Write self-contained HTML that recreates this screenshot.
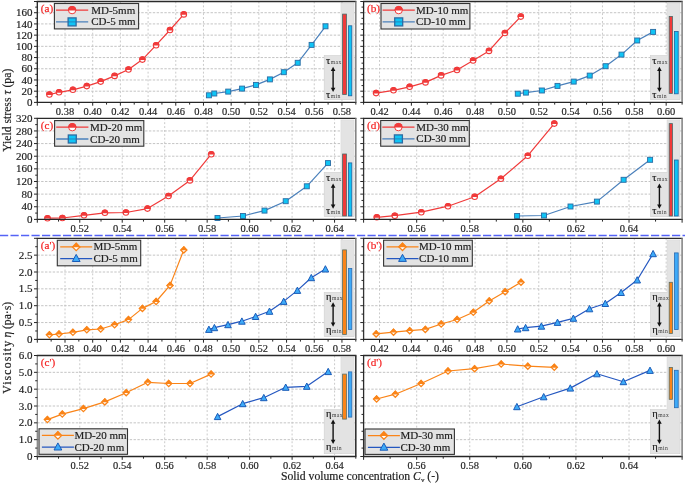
<!DOCTYPE html>
<html><head><meta charset="utf-8"><style>html,body{margin:0;padding:0;background:#fff;}svg{display:block;will-change:transform;}</style></head><body>
<svg width="685" height="483" viewBox="0 0 685 483" font-family='"Liberation Serif", serif'>
<rect width="685" height="483" fill="#fff"/>
<line x1="65.00" y1="1.50" x2="65.00" y2="102.40" stroke="#c4c4c4" stroke-width="0.9" stroke-dasharray="1.9,2"/>
<line x1="92.69" y1="1.50" x2="92.69" y2="102.40" stroke="#c4c4c4" stroke-width="0.9" stroke-dasharray="1.9,2"/>
<line x1="120.39" y1="1.50" x2="120.39" y2="102.40" stroke="#c4c4c4" stroke-width="0.9" stroke-dasharray="1.9,2"/>
<line x1="148.08" y1="1.50" x2="148.08" y2="102.40" stroke="#c4c4c4" stroke-width="0.9" stroke-dasharray="1.9,2"/>
<line x1="175.78" y1="1.50" x2="175.78" y2="102.40" stroke="#c4c4c4" stroke-width="0.9" stroke-dasharray="1.9,2"/>
<line x1="203.47" y1="1.50" x2="203.47" y2="102.40" stroke="#c4c4c4" stroke-width="0.9" stroke-dasharray="1.9,2"/>
<line x1="231.17" y1="1.50" x2="231.17" y2="102.40" stroke="#c4c4c4" stroke-width="0.9" stroke-dasharray="1.9,2"/>
<line x1="258.87" y1="1.50" x2="258.87" y2="102.40" stroke="#c4c4c4" stroke-width="0.9" stroke-dasharray="1.9,2"/>
<line x1="286.56" y1="1.50" x2="286.56" y2="102.40" stroke="#c4c4c4" stroke-width="0.9" stroke-dasharray="1.9,2"/>
<line x1="314.26" y1="1.50" x2="314.26" y2="102.40" stroke="#c4c4c4" stroke-width="0.9" stroke-dasharray="1.9,2"/>
<line x1="341.95" y1="1.50" x2="341.95" y2="102.40" stroke="#c4c4c4" stroke-width="0.9" stroke-dasharray="1.9,2"/>
<line x1="37.30" y1="91.19" x2="355.80" y2="91.19" stroke="#bdbdbd" stroke-width="0.9" stroke-dasharray="2.4,1.45"/>
<line x1="37.30" y1="79.98" x2="355.80" y2="79.98" stroke="#bdbdbd" stroke-width="0.9" stroke-dasharray="2.4,1.45"/>
<line x1="37.30" y1="68.77" x2="355.80" y2="68.77" stroke="#bdbdbd" stroke-width="0.9" stroke-dasharray="2.4,1.45"/>
<line x1="37.30" y1="57.56" x2="355.80" y2="57.56" stroke="#bdbdbd" stroke-width="0.9" stroke-dasharray="2.4,1.45"/>
<line x1="37.30" y1="46.34" x2="355.80" y2="46.34" stroke="#bdbdbd" stroke-width="0.9" stroke-dasharray="2.4,1.45"/>
<line x1="37.30" y1="35.13" x2="355.80" y2="35.13" stroke="#bdbdbd" stroke-width="0.9" stroke-dasharray="2.4,1.45"/>
<line x1="37.30" y1="23.92" x2="355.80" y2="23.92" stroke="#bdbdbd" stroke-width="0.9" stroke-dasharray="2.4,1.45"/>
<line x1="37.30" y1="12.71" x2="355.80" y2="12.71" stroke="#bdbdbd" stroke-width="0.9" stroke-dasharray="2.4,1.45"/>
<rect x="341.0" y="3.20" width="13.00" height="96.40" fill="#e3e3e3" stroke="#d0d0d0" stroke-width="0.6"/>
<rect x="324.2" y="55.50" width="29.80" height="44.10" fill="#e3e3e3" stroke="#d0d0d0" stroke-width="0.6"/>
<rect x="341.3" y="3.50" width="12.40" height="95.80" fill="#e3e3e3"/>
<rect x="342.6" y="14.1" width="3.80" height="80.40" fill="#f03a3a" stroke="#4a6a68" stroke-width="0.8"/>
<rect x="348.5" y="25.8" width="3.30" height="70.00" fill="#0fc4f5" stroke="#20609f" stroke-width="0.8"/>
<text x="326.00" y="63.90" font-size="10.5" fill="#1a1a1a" stroke="#1a1a1a" stroke-width="0.18">τ<tspan font-size="5.6" letter-spacing="0.5" fill="#3a3a3a" stroke="none" dx="0.4">max</tspan></text>
<text x="326.00" y="97.50" font-size="10.5" fill="#1a1a1a" stroke="#1a1a1a" stroke-width="0.18">τ<tspan font-size="5.6" letter-spacing="0.5" fill="#3a3a3a" stroke="none" dx="0.4">min</tspan></text>
<line x1="333.10" y1="69.70" x2="333.10" y2="89.00" stroke="#111" stroke-width="1.4"/>
<path d="M333.10,66.70 L335.40,71.00 L330.80,71.00 Z" fill="#111"/>
<path d="M333.10,92.00 L335.40,87.70 L330.80,87.70 Z" fill="#111"/>
<polyline points="49.40,94.50 59.00,92.30 72.90,89.80 86.80,86.10 100.70,81.60 114.60,75.90 128.50,69.50 142.40,59.60 156.10,45.20 170.00,30.00 183.80,14.40" fill="none" stroke="#f03a3a" stroke-width="1.2" stroke-linejoin="round"/>
<polyline points="208.90,95.30 214.30,93.50 228.20,91.60 242.10,88.60 256.00,84.90 269.90,79.40 283.80,72.20 297.70,62.80 311.60,44.90 325.50,26.30" fill="none" stroke="#4a80bb" stroke-width="1.2" stroke-linejoin="round"/>
<circle cx="49.40" cy="94.50" r="2.75" fill="#fff" stroke="#f03a3a" stroke-width="1.1"/><path d="M46.12,94.90 A3.30,3.30 0 1 1 52.68,94.90 Z" fill="#f03a3a"/>
<circle cx="59.00" cy="92.30" r="2.75" fill="#fff" stroke="#f03a3a" stroke-width="1.1"/><path d="M55.72,92.70 A3.30,3.30 0 1 1 62.28,92.70 Z" fill="#f03a3a"/>
<circle cx="72.90" cy="89.80" r="2.75" fill="#fff" stroke="#f03a3a" stroke-width="1.1"/><path d="M69.62,90.20 A3.30,3.30 0 1 1 76.18,90.20 Z" fill="#f03a3a"/>
<circle cx="86.80" cy="86.10" r="2.75" fill="#fff" stroke="#f03a3a" stroke-width="1.1"/><path d="M83.52,86.50 A3.30,3.30 0 1 1 90.08,86.50 Z" fill="#f03a3a"/>
<circle cx="100.70" cy="81.60" r="2.75" fill="#fff" stroke="#f03a3a" stroke-width="1.1"/><path d="M97.42,82.00 A3.30,3.30 0 1 1 103.98,82.00 Z" fill="#f03a3a"/>
<circle cx="114.60" cy="75.90" r="2.75" fill="#fff" stroke="#f03a3a" stroke-width="1.1"/><path d="M111.32,76.30 A3.30,3.30 0 1 1 117.88,76.30 Z" fill="#f03a3a"/>
<circle cx="128.50" cy="69.50" r="2.75" fill="#fff" stroke="#f03a3a" stroke-width="1.1"/><path d="M125.22,69.90 A3.30,3.30 0 1 1 131.78,69.90 Z" fill="#f03a3a"/>
<circle cx="142.40" cy="59.60" r="2.75" fill="#fff" stroke="#f03a3a" stroke-width="1.1"/><path d="M139.12,60.00 A3.30,3.30 0 1 1 145.68,60.00 Z" fill="#f03a3a"/>
<circle cx="156.10" cy="45.20" r="2.75" fill="#fff" stroke="#f03a3a" stroke-width="1.1"/><path d="M152.82,45.60 A3.30,3.30 0 1 1 159.38,45.60 Z" fill="#f03a3a"/>
<circle cx="170.00" cy="30.00" r="2.75" fill="#fff" stroke="#f03a3a" stroke-width="1.1"/><path d="M166.72,30.40 A3.30,3.30 0 1 1 173.28,30.40 Z" fill="#f03a3a"/>
<circle cx="183.80" cy="14.40" r="2.75" fill="#fff" stroke="#f03a3a" stroke-width="1.1"/><path d="M180.52,14.80 A3.30,3.30 0 1 1 187.08,14.80 Z" fill="#f03a3a"/>
<rect x="206.40" y="92.80" width="5.0" height="5.0" fill="#0fc4f5" stroke="#2b6ca3" stroke-width="0.9"/>
<rect x="211.80" y="91.00" width="5.0" height="5.0" fill="#0fc4f5" stroke="#2b6ca3" stroke-width="0.9"/>
<rect x="225.70" y="89.10" width="5.0" height="5.0" fill="#0fc4f5" stroke="#2b6ca3" stroke-width="0.9"/>
<rect x="239.60" y="86.10" width="5.0" height="5.0" fill="#0fc4f5" stroke="#2b6ca3" stroke-width="0.9"/>
<rect x="253.50" y="82.40" width="5.0" height="5.0" fill="#0fc4f5" stroke="#2b6ca3" stroke-width="0.9"/>
<rect x="267.40" y="76.90" width="5.0" height="5.0" fill="#0fc4f5" stroke="#2b6ca3" stroke-width="0.9"/>
<rect x="281.30" y="69.70" width="5.0" height="5.0" fill="#0fc4f5" stroke="#2b6ca3" stroke-width="0.9"/>
<rect x="295.20" y="60.30" width="5.0" height="5.0" fill="#0fc4f5" stroke="#2b6ca3" stroke-width="0.9"/>
<rect x="309.10" y="42.40" width="5.0" height="5.0" fill="#0fc4f5" stroke="#2b6ca3" stroke-width="0.9"/>
<rect x="323.00" y="23.80" width="5.0" height="5.0" fill="#0fc4f5" stroke="#2b6ca3" stroke-width="0.9"/>
<rect x="54.4" y="3.5" width="84.2" height="25.4" fill="#e3e3e3" stroke="#333" stroke-width="1.1"/>
<line x1="56.00" y1="10.10" x2="88.20" y2="10.10" stroke="#f03a3a" stroke-width="1.3"/>
<line x1="56.00" y1="21.90" x2="88.20" y2="21.90" stroke="#4a80bb" stroke-width="1.3"/>
<circle cx="72.10" cy="10.10" r="3.7" fill="#fff" stroke="#f03a3a" stroke-width="1.0"/><path d="M67.93,10.60 A4.20,4.20 0 1 1 76.27,10.60 Z" fill="#f03a3a"/>
<rect x="68.10" y="17.90" width="8.0" height="8.0" fill="#0fc4f5" stroke="#2b6ca3" stroke-width="1.3"/>
<line x1="68.10" y1="21.90" x2="76.10" y2="21.90" stroke="#2b6ca3" stroke-width="1.0" opacity="0.7"/>
<text x="91.20" y="13.60" font-size="11" fill="#222" stroke="#222" stroke-width="0.18">MD-5mm</text>
<text x="91.20" y="25.40" font-size="11" fill="#222" stroke="#222" stroke-width="0.18">CD-5 mm</text>
<text x="40.70" y="11.70" font-size="11.2" fill="#f52020" stroke="#f52020" stroke-width="0.18">(a)</text>
<line x1="36.70" y1="102.40" x2="356.40" y2="102.40" stroke="#262626" stroke-width="1.3"/>
<line x1="37.30" y1="1.50" x2="37.30" y2="102.40" stroke="#222" stroke-width="1.3"/>
<line x1="36.70" y1="1.50" x2="356.40" y2="1.50" stroke="#2a2a2a" stroke-width="1.3"/>
<line x1="355.80" y1="1.50" x2="355.80" y2="102.40" stroke="#858585" stroke-width="1.6"/>
<line x1="37.30" y1="102.40" x2="37.30" y2="105.70" stroke="#262626" stroke-width="1"/>
<line x1="51.15" y1="102.40" x2="51.15" y2="104.60" stroke="#262626" stroke-width="1"/>
<line x1="65.00" y1="102.40" x2="65.00" y2="105.70" stroke="#262626" stroke-width="1"/>
<line x1="78.84" y1="102.40" x2="78.84" y2="104.60" stroke="#262626" stroke-width="1"/>
<line x1="92.69" y1="102.40" x2="92.69" y2="105.70" stroke="#262626" stroke-width="1"/>
<line x1="106.54" y1="102.40" x2="106.54" y2="104.60" stroke="#262626" stroke-width="1"/>
<line x1="120.39" y1="102.40" x2="120.39" y2="105.70" stroke="#262626" stroke-width="1"/>
<line x1="134.23" y1="102.40" x2="134.23" y2="104.60" stroke="#262626" stroke-width="1"/>
<line x1="148.08" y1="102.40" x2="148.08" y2="105.70" stroke="#262626" stroke-width="1"/>
<line x1="161.93" y1="102.40" x2="161.93" y2="104.60" stroke="#262626" stroke-width="1"/>
<line x1="175.78" y1="102.40" x2="175.78" y2="105.70" stroke="#262626" stroke-width="1"/>
<line x1="189.63" y1="102.40" x2="189.63" y2="104.60" stroke="#262626" stroke-width="1"/>
<line x1="203.47" y1="102.40" x2="203.47" y2="105.70" stroke="#262626" stroke-width="1"/>
<line x1="217.32" y1="102.40" x2="217.32" y2="104.60" stroke="#262626" stroke-width="1"/>
<line x1="231.17" y1="102.40" x2="231.17" y2="105.70" stroke="#262626" stroke-width="1"/>
<line x1="245.02" y1="102.40" x2="245.02" y2="104.60" stroke="#262626" stroke-width="1"/>
<line x1="258.87" y1="102.40" x2="258.87" y2="105.70" stroke="#262626" stroke-width="1"/>
<line x1="272.71" y1="102.40" x2="272.71" y2="104.60" stroke="#262626" stroke-width="1"/>
<line x1="286.56" y1="102.40" x2="286.56" y2="105.70" stroke="#262626" stroke-width="1"/>
<line x1="300.41" y1="102.40" x2="300.41" y2="104.60" stroke="#262626" stroke-width="1"/>
<line x1="314.26" y1="102.40" x2="314.26" y2="105.70" stroke="#262626" stroke-width="1"/>
<line x1="328.10" y1="102.40" x2="328.10" y2="104.60" stroke="#262626" stroke-width="1"/>
<line x1="341.95" y1="102.40" x2="341.95" y2="105.70" stroke="#262626" stroke-width="1"/>
<line x1="355.80" y1="102.40" x2="355.80" y2="104.60" stroke="#262626" stroke-width="1"/>
<text x="65.00" y="114.50" font-size="11" fill="#1e1e1e" text-anchor="middle" textLength="18.3" lengthAdjust="spacingAndGlyphs" stroke="#1e1e1e" stroke-width="0.18">0.38</text>
<text x="92.69" y="114.50" font-size="11" fill="#1e1e1e" text-anchor="middle" textLength="18.3" lengthAdjust="spacingAndGlyphs" stroke="#1e1e1e" stroke-width="0.18">0.40</text>
<text x="120.39" y="114.50" font-size="11" fill="#1e1e1e" text-anchor="middle" textLength="18.3" lengthAdjust="spacingAndGlyphs" stroke="#1e1e1e" stroke-width="0.18">0.42</text>
<text x="148.08" y="114.50" font-size="11" fill="#1e1e1e" text-anchor="middle" textLength="18.3" lengthAdjust="spacingAndGlyphs" stroke="#1e1e1e" stroke-width="0.18">0.44</text>
<text x="175.78" y="114.50" font-size="11" fill="#1e1e1e" text-anchor="middle" textLength="18.3" lengthAdjust="spacingAndGlyphs" stroke="#1e1e1e" stroke-width="0.18">0.46</text>
<text x="203.47" y="114.50" font-size="11" fill="#1e1e1e" text-anchor="middle" textLength="18.3" lengthAdjust="spacingAndGlyphs" stroke="#1e1e1e" stroke-width="0.18">0.48</text>
<text x="231.17" y="114.50" font-size="11" fill="#1e1e1e" text-anchor="middle" textLength="18.3" lengthAdjust="spacingAndGlyphs" stroke="#1e1e1e" stroke-width="0.18">0.50</text>
<text x="258.87" y="114.50" font-size="11" fill="#1e1e1e" text-anchor="middle" textLength="18.3" lengthAdjust="spacingAndGlyphs" stroke="#1e1e1e" stroke-width="0.18">0.52</text>
<text x="286.56" y="114.50" font-size="11" fill="#1e1e1e" text-anchor="middle" textLength="18.3" lengthAdjust="spacingAndGlyphs" stroke="#1e1e1e" stroke-width="0.18">0.54</text>
<text x="314.26" y="114.50" font-size="11" fill="#1e1e1e" text-anchor="middle" textLength="18.3" lengthAdjust="spacingAndGlyphs" stroke="#1e1e1e" stroke-width="0.18">0.56</text>
<text x="341.95" y="114.50" font-size="11" fill="#1e1e1e" text-anchor="middle" textLength="18.3" lengthAdjust="spacingAndGlyphs" stroke="#1e1e1e" stroke-width="0.18">0.58</text>
<line x1="34.00" y1="102.40" x2="37.30" y2="102.40" stroke="#262626" stroke-width="1"/>
<line x1="35.20" y1="96.79" x2="37.30" y2="96.79" stroke="#262626" stroke-width="1"/>
<line x1="34.00" y1="91.19" x2="37.30" y2="91.19" stroke="#262626" stroke-width="1"/>
<line x1="35.20" y1="85.58" x2="37.30" y2="85.58" stroke="#262626" stroke-width="1"/>
<line x1="34.00" y1="79.98" x2="37.30" y2="79.98" stroke="#262626" stroke-width="1"/>
<line x1="35.20" y1="74.37" x2="37.30" y2="74.37" stroke="#262626" stroke-width="1"/>
<line x1="34.00" y1="68.77" x2="37.30" y2="68.77" stroke="#262626" stroke-width="1"/>
<line x1="35.20" y1="63.16" x2="37.30" y2="63.16" stroke="#262626" stroke-width="1"/>
<line x1="34.00" y1="57.56" x2="37.30" y2="57.56" stroke="#262626" stroke-width="1"/>
<line x1="35.20" y1="51.95" x2="37.30" y2="51.95" stroke="#262626" stroke-width="1"/>
<line x1="34.00" y1="46.34" x2="37.30" y2="46.34" stroke="#262626" stroke-width="1"/>
<line x1="35.20" y1="40.74" x2="37.30" y2="40.74" stroke="#262626" stroke-width="1"/>
<line x1="34.00" y1="35.13" x2="37.30" y2="35.13" stroke="#262626" stroke-width="1"/>
<line x1="35.20" y1="29.53" x2="37.30" y2="29.53" stroke="#262626" stroke-width="1"/>
<line x1="34.00" y1="23.92" x2="37.30" y2="23.92" stroke="#262626" stroke-width="1"/>
<line x1="35.20" y1="18.32" x2="37.30" y2="18.32" stroke="#262626" stroke-width="1"/>
<line x1="34.00" y1="12.71" x2="37.30" y2="12.71" stroke="#262626" stroke-width="1"/>
<line x1="35.20" y1="7.11" x2="37.30" y2="7.11" stroke="#262626" stroke-width="1"/>
<line x1="34.00" y1="1.50" x2="37.30" y2="1.50" stroke="#262626" stroke-width="1"/>
<text x="32.40" y="106.00" font-size="11" fill="#1e1e1e" text-anchor="end" stroke="#1e1e1e" stroke-width="0.18">0</text>
<text x="32.40" y="94.79" font-size="11" fill="#1e1e1e" text-anchor="end" stroke="#1e1e1e" stroke-width="0.18">20</text>
<text x="32.40" y="83.58" font-size="11" fill="#1e1e1e" text-anchor="end" stroke="#1e1e1e" stroke-width="0.18">40</text>
<text x="32.40" y="72.37" font-size="11" fill="#1e1e1e" text-anchor="end" stroke="#1e1e1e" stroke-width="0.18">60</text>
<text x="32.40" y="61.16" font-size="11" fill="#1e1e1e" text-anchor="end" stroke="#1e1e1e" stroke-width="0.18">80</text>
<text x="32.40" y="49.94" font-size="11" fill="#1e1e1e" text-anchor="end" stroke="#1e1e1e" stroke-width="0.18">100</text>
<text x="32.40" y="38.73" font-size="11" fill="#1e1e1e" text-anchor="end" stroke="#1e1e1e" stroke-width="0.18">120</text>
<text x="32.40" y="27.52" font-size="11" fill="#1e1e1e" text-anchor="end" stroke="#1e1e1e" stroke-width="0.18">140</text>
<text x="32.40" y="16.31" font-size="11" fill="#1e1e1e" text-anchor="end" stroke="#1e1e1e" stroke-width="0.18">160</text>
<line x1="379.53" y1="1.50" x2="379.53" y2="102.40" stroke="#c4c4c4" stroke-width="0.9" stroke-dasharray="1.9,2"/>
<line x1="411.38" y1="1.50" x2="411.38" y2="102.40" stroke="#c4c4c4" stroke-width="0.9" stroke-dasharray="1.9,2"/>
<line x1="443.23" y1="1.50" x2="443.23" y2="102.40" stroke="#c4c4c4" stroke-width="0.9" stroke-dasharray="1.9,2"/>
<line x1="475.08" y1="1.50" x2="475.08" y2="102.40" stroke="#c4c4c4" stroke-width="0.9" stroke-dasharray="1.9,2"/>
<line x1="506.93" y1="1.50" x2="506.93" y2="102.40" stroke="#c4c4c4" stroke-width="0.9" stroke-dasharray="1.9,2"/>
<line x1="538.78" y1="1.50" x2="538.78" y2="102.40" stroke="#c4c4c4" stroke-width="0.9" stroke-dasharray="1.9,2"/>
<line x1="570.63" y1="1.50" x2="570.63" y2="102.40" stroke="#c4c4c4" stroke-width="0.9" stroke-dasharray="1.9,2"/>
<line x1="602.48" y1="1.50" x2="602.48" y2="102.40" stroke="#c4c4c4" stroke-width="0.9" stroke-dasharray="1.9,2"/>
<line x1="634.33" y1="1.50" x2="634.33" y2="102.40" stroke="#c4c4c4" stroke-width="0.9" stroke-dasharray="1.9,2"/>
<line x1="666.17" y1="1.50" x2="666.17" y2="102.40" stroke="#c4c4c4" stroke-width="0.9" stroke-dasharray="1.9,2"/>
<line x1="363.60" y1="91.19" x2="682.10" y2="91.19" stroke="#bdbdbd" stroke-width="0.9" stroke-dasharray="2.4,1.45"/>
<line x1="363.60" y1="79.98" x2="682.10" y2="79.98" stroke="#bdbdbd" stroke-width="0.9" stroke-dasharray="2.4,1.45"/>
<line x1="363.60" y1="68.77" x2="682.10" y2="68.77" stroke="#bdbdbd" stroke-width="0.9" stroke-dasharray="2.4,1.45"/>
<line x1="363.60" y1="57.56" x2="682.10" y2="57.56" stroke="#bdbdbd" stroke-width="0.9" stroke-dasharray="2.4,1.45"/>
<line x1="363.60" y1="46.34" x2="682.10" y2="46.34" stroke="#bdbdbd" stroke-width="0.9" stroke-dasharray="2.4,1.45"/>
<line x1="363.60" y1="35.13" x2="682.10" y2="35.13" stroke="#bdbdbd" stroke-width="0.9" stroke-dasharray="2.4,1.45"/>
<line x1="363.60" y1="23.92" x2="682.10" y2="23.92" stroke="#bdbdbd" stroke-width="0.9" stroke-dasharray="2.4,1.45"/>
<line x1="363.60" y1="12.71" x2="682.10" y2="12.71" stroke="#bdbdbd" stroke-width="0.9" stroke-dasharray="2.4,1.45"/>
<rect x="667.1" y="3.20" width="12.80" height="96.40" fill="#e3e3e3" stroke="#d0d0d0" stroke-width="0.6"/>
<rect x="650.5" y="55.50" width="29.40" height="44.10" fill="#e3e3e3" stroke="#d0d0d0" stroke-width="0.6"/>
<rect x="667.4" y="3.50" width="12.20" height="95.80" fill="#e3e3e3"/>
<rect x="669.2" y="16.4" width="3.20" height="77.00" fill="#f03a3a" stroke="#4a6a68" stroke-width="0.8"/>
<rect x="674.5" y="31.5" width="3.70" height="62.30" fill="#0fc4f5" stroke="#20609f" stroke-width="0.8"/>
<text x="652.30" y="63.90" font-size="10.5" fill="#1a1a1a" stroke="#1a1a1a" stroke-width="0.18">τ<tspan font-size="5.6" letter-spacing="0.5" fill="#3a3a3a" stroke="none" dx="0.4">max</tspan></text>
<text x="652.30" y="97.50" font-size="10.5" fill="#1a1a1a" stroke="#1a1a1a" stroke-width="0.18">τ<tspan font-size="5.6" letter-spacing="0.5" fill="#3a3a3a" stroke="none" dx="0.4">min</tspan></text>
<line x1="659.40" y1="69.70" x2="659.40" y2="89.00" stroke="#111" stroke-width="1.4"/>
<path d="M659.40,66.70 L661.70,71.00 L657.10,71.00 Z" fill="#111"/>
<path d="M659.40,92.00 L661.70,87.70 L657.10,87.70 Z" fill="#111"/>
<polyline points="376.10,93.10 393.50,90.30 409.60,86.80 425.50,82.40 441.10,75.40 457.00,70.00 473.10,60.50 489.00,50.90 504.90,33.00 520.80,16.60" fill="none" stroke="#f03a3a" stroke-width="1.2" stroke-linejoin="round"/>
<polyline points="517.80,93.70 525.90,92.60 541.90,90.50 557.50,85.90 573.70,81.60 589.70,75.60 605.60,66.20 621.50,54.60 637.20,40.50 653.10,31.90" fill="none" stroke="#4a80bb" stroke-width="1.2" stroke-linejoin="round"/>
<circle cx="376.10" cy="93.10" r="2.75" fill="#fff" stroke="#f03a3a" stroke-width="1.1"/><path d="M372.82,93.50 A3.30,3.30 0 1 1 379.38,93.50 Z" fill="#f03a3a"/>
<circle cx="393.50" cy="90.30" r="2.75" fill="#fff" stroke="#f03a3a" stroke-width="1.1"/><path d="M390.22,90.70 A3.30,3.30 0 1 1 396.78,90.70 Z" fill="#f03a3a"/>
<circle cx="409.60" cy="86.80" r="2.75" fill="#fff" stroke="#f03a3a" stroke-width="1.1"/><path d="M406.32,87.20 A3.30,3.30 0 1 1 412.88,87.20 Z" fill="#f03a3a"/>
<circle cx="425.50" cy="82.40" r="2.75" fill="#fff" stroke="#f03a3a" stroke-width="1.1"/><path d="M422.22,82.80 A3.30,3.30 0 1 1 428.78,82.80 Z" fill="#f03a3a"/>
<circle cx="441.10" cy="75.40" r="2.75" fill="#fff" stroke="#f03a3a" stroke-width="1.1"/><path d="M437.82,75.80 A3.30,3.30 0 1 1 444.38,75.80 Z" fill="#f03a3a"/>
<circle cx="457.00" cy="70.00" r="2.75" fill="#fff" stroke="#f03a3a" stroke-width="1.1"/><path d="M453.72,70.40 A3.30,3.30 0 1 1 460.28,70.40 Z" fill="#f03a3a"/>
<circle cx="473.10" cy="60.50" r="2.75" fill="#fff" stroke="#f03a3a" stroke-width="1.1"/><path d="M469.82,60.90 A3.30,3.30 0 1 1 476.38,60.90 Z" fill="#f03a3a"/>
<circle cx="489.00" cy="50.90" r="2.75" fill="#fff" stroke="#f03a3a" stroke-width="1.1"/><path d="M485.72,51.30 A3.30,3.30 0 1 1 492.28,51.30 Z" fill="#f03a3a"/>
<circle cx="504.90" cy="33.00" r="2.75" fill="#fff" stroke="#f03a3a" stroke-width="1.1"/><path d="M501.62,33.40 A3.30,3.30 0 1 1 508.18,33.40 Z" fill="#f03a3a"/>
<circle cx="520.80" cy="16.60" r="2.75" fill="#fff" stroke="#f03a3a" stroke-width="1.1"/><path d="M517.52,17.00 A3.30,3.30 0 1 1 524.08,17.00 Z" fill="#f03a3a"/>
<rect x="515.30" y="91.20" width="5.0" height="5.0" fill="#0fc4f5" stroke="#2b6ca3" stroke-width="0.9"/>
<rect x="523.40" y="90.10" width="5.0" height="5.0" fill="#0fc4f5" stroke="#2b6ca3" stroke-width="0.9"/>
<rect x="539.40" y="88.00" width="5.0" height="5.0" fill="#0fc4f5" stroke="#2b6ca3" stroke-width="0.9"/>
<rect x="555.00" y="83.40" width="5.0" height="5.0" fill="#0fc4f5" stroke="#2b6ca3" stroke-width="0.9"/>
<rect x="571.20" y="79.10" width="5.0" height="5.0" fill="#0fc4f5" stroke="#2b6ca3" stroke-width="0.9"/>
<rect x="587.20" y="73.10" width="5.0" height="5.0" fill="#0fc4f5" stroke="#2b6ca3" stroke-width="0.9"/>
<rect x="603.10" y="63.70" width="5.0" height="5.0" fill="#0fc4f5" stroke="#2b6ca3" stroke-width="0.9"/>
<rect x="619.00" y="52.10" width="5.0" height="5.0" fill="#0fc4f5" stroke="#2b6ca3" stroke-width="0.9"/>
<rect x="634.70" y="38.00" width="5.0" height="5.0" fill="#0fc4f5" stroke="#2b6ca3" stroke-width="0.9"/>
<rect x="650.60" y="29.40" width="5.0" height="5.0" fill="#0fc4f5" stroke="#2b6ca3" stroke-width="0.9"/>
<rect x="381.0" y="3.5" width="88.9" height="25.5" fill="#e3e3e3" stroke="#333" stroke-width="1.1"/>
<line x1="382.60" y1="10.10" x2="414.80" y2="10.10" stroke="#f03a3a" stroke-width="1.3"/>
<line x1="382.60" y1="21.90" x2="414.80" y2="21.90" stroke="#4a80bb" stroke-width="1.3"/>
<circle cx="398.70" cy="10.10" r="3.7" fill="#fff" stroke="#f03a3a" stroke-width="1.0"/><path d="M394.53,10.60 A4.20,4.20 0 1 1 402.87,10.60 Z" fill="#f03a3a"/>
<rect x="394.70" y="17.90" width="8.0" height="8.0" fill="#0fc4f5" stroke="#2b6ca3" stroke-width="1.3"/>
<line x1="394.70" y1="21.90" x2="402.70" y2="21.90" stroke="#2b6ca3" stroke-width="1.0" opacity="0.7"/>
<text x="416.00" y="13.60" font-size="11" fill="#222" stroke="#222" stroke-width="0.18">MD-10 mm</text>
<text x="416.00" y="25.40" font-size="11" fill="#222" stroke="#222" stroke-width="0.18">CD-10 mm</text>
<text x="367.00" y="11.70" font-size="11.2" fill="#f52020" stroke="#f52020" stroke-width="0.18">(b)</text>
<line x1="363.00" y1="102.40" x2="682.70" y2="102.40" stroke="#262626" stroke-width="1.3"/>
<line x1="363.60" y1="1.50" x2="363.60" y2="102.40" stroke="#222" stroke-width="1.3"/>
<line x1="363.00" y1="1.50" x2="682.70" y2="1.50" stroke="#2a2a2a" stroke-width="1.3"/>
<line x1="682.10" y1="1.50" x2="682.10" y2="102.40" stroke="#858585" stroke-width="1.6"/>
<line x1="363.60" y1="102.40" x2="363.60" y2="104.60" stroke="#262626" stroke-width="1"/>
<line x1="379.53" y1="102.40" x2="379.53" y2="105.70" stroke="#262626" stroke-width="1"/>
<line x1="395.45" y1="102.40" x2="395.45" y2="104.60" stroke="#262626" stroke-width="1"/>
<line x1="411.38" y1="102.40" x2="411.38" y2="105.70" stroke="#262626" stroke-width="1"/>
<line x1="427.30" y1="102.40" x2="427.30" y2="104.60" stroke="#262626" stroke-width="1"/>
<line x1="443.23" y1="102.40" x2="443.23" y2="105.70" stroke="#262626" stroke-width="1"/>
<line x1="459.15" y1="102.40" x2="459.15" y2="104.60" stroke="#262626" stroke-width="1"/>
<line x1="475.08" y1="102.40" x2="475.08" y2="105.70" stroke="#262626" stroke-width="1"/>
<line x1="491.00" y1="102.40" x2="491.00" y2="104.60" stroke="#262626" stroke-width="1"/>
<line x1="506.93" y1="102.40" x2="506.93" y2="105.70" stroke="#262626" stroke-width="1"/>
<line x1="522.85" y1="102.40" x2="522.85" y2="104.60" stroke="#262626" stroke-width="1"/>
<line x1="538.78" y1="102.40" x2="538.78" y2="105.70" stroke="#262626" stroke-width="1"/>
<line x1="554.70" y1="102.40" x2="554.70" y2="104.60" stroke="#262626" stroke-width="1"/>
<line x1="570.63" y1="102.40" x2="570.63" y2="105.70" stroke="#262626" stroke-width="1"/>
<line x1="586.55" y1="102.40" x2="586.55" y2="104.60" stroke="#262626" stroke-width="1"/>
<line x1="602.47" y1="102.40" x2="602.47" y2="105.70" stroke="#262626" stroke-width="1"/>
<line x1="618.40" y1="102.40" x2="618.40" y2="104.60" stroke="#262626" stroke-width="1"/>
<line x1="634.33" y1="102.40" x2="634.33" y2="105.70" stroke="#262626" stroke-width="1"/>
<line x1="650.25" y1="102.40" x2="650.25" y2="104.60" stroke="#262626" stroke-width="1"/>
<line x1="666.17" y1="102.40" x2="666.17" y2="105.70" stroke="#262626" stroke-width="1"/>
<line x1="682.10" y1="102.40" x2="682.10" y2="104.60" stroke="#262626" stroke-width="1"/>
<text x="379.53" y="114.50" font-size="11" fill="#1e1e1e" text-anchor="middle" textLength="18.3" lengthAdjust="spacingAndGlyphs" stroke="#1e1e1e" stroke-width="0.18">0.42</text>
<text x="411.38" y="114.50" font-size="11" fill="#1e1e1e" text-anchor="middle" textLength="18.3" lengthAdjust="spacingAndGlyphs" stroke="#1e1e1e" stroke-width="0.18">0.44</text>
<text x="443.23" y="114.50" font-size="11" fill="#1e1e1e" text-anchor="middle" textLength="18.3" lengthAdjust="spacingAndGlyphs" stroke="#1e1e1e" stroke-width="0.18">0.46</text>
<text x="475.08" y="114.50" font-size="11" fill="#1e1e1e" text-anchor="middle" textLength="18.3" lengthAdjust="spacingAndGlyphs" stroke="#1e1e1e" stroke-width="0.18">0.48</text>
<text x="506.93" y="114.50" font-size="11" fill="#1e1e1e" text-anchor="middle" textLength="18.3" lengthAdjust="spacingAndGlyphs" stroke="#1e1e1e" stroke-width="0.18">0.50</text>
<text x="538.78" y="114.50" font-size="11" fill="#1e1e1e" text-anchor="middle" textLength="18.3" lengthAdjust="spacingAndGlyphs" stroke="#1e1e1e" stroke-width="0.18">0.52</text>
<text x="570.63" y="114.50" font-size="11" fill="#1e1e1e" text-anchor="middle" textLength="18.3" lengthAdjust="spacingAndGlyphs" stroke="#1e1e1e" stroke-width="0.18">0.54</text>
<text x="602.48" y="114.50" font-size="11" fill="#1e1e1e" text-anchor="middle" textLength="18.3" lengthAdjust="spacingAndGlyphs" stroke="#1e1e1e" stroke-width="0.18">0.56</text>
<text x="634.33" y="114.50" font-size="11" fill="#1e1e1e" text-anchor="middle" textLength="18.3" lengthAdjust="spacingAndGlyphs" stroke="#1e1e1e" stroke-width="0.18">0.58</text>
<text x="666.17" y="114.50" font-size="11" fill="#1e1e1e" text-anchor="middle" textLength="18.3" lengthAdjust="spacingAndGlyphs" stroke="#1e1e1e" stroke-width="0.18">0.60</text>
<line x1="360.30" y1="102.40" x2="363.60" y2="102.40" stroke="#262626" stroke-width="1"/>
<line x1="361.50" y1="96.79" x2="363.60" y2="96.79" stroke="#262626" stroke-width="1"/>
<line x1="360.30" y1="91.19" x2="363.60" y2="91.19" stroke="#262626" stroke-width="1"/>
<line x1="361.50" y1="85.58" x2="363.60" y2="85.58" stroke="#262626" stroke-width="1"/>
<line x1="360.30" y1="79.98" x2="363.60" y2="79.98" stroke="#262626" stroke-width="1"/>
<line x1="361.50" y1="74.37" x2="363.60" y2="74.37" stroke="#262626" stroke-width="1"/>
<line x1="360.30" y1="68.77" x2="363.60" y2="68.77" stroke="#262626" stroke-width="1"/>
<line x1="361.50" y1="63.16" x2="363.60" y2="63.16" stroke="#262626" stroke-width="1"/>
<line x1="360.30" y1="57.56" x2="363.60" y2="57.56" stroke="#262626" stroke-width="1"/>
<line x1="361.50" y1="51.95" x2="363.60" y2="51.95" stroke="#262626" stroke-width="1"/>
<line x1="360.30" y1="46.34" x2="363.60" y2="46.34" stroke="#262626" stroke-width="1"/>
<line x1="361.50" y1="40.74" x2="363.60" y2="40.74" stroke="#262626" stroke-width="1"/>
<line x1="360.30" y1="35.13" x2="363.60" y2="35.13" stroke="#262626" stroke-width="1"/>
<line x1="361.50" y1="29.53" x2="363.60" y2="29.53" stroke="#262626" stroke-width="1"/>
<line x1="360.30" y1="23.92" x2="363.60" y2="23.92" stroke="#262626" stroke-width="1"/>
<line x1="361.50" y1="18.32" x2="363.60" y2="18.32" stroke="#262626" stroke-width="1"/>
<line x1="360.30" y1="12.71" x2="363.60" y2="12.71" stroke="#262626" stroke-width="1"/>
<line x1="361.50" y1="7.11" x2="363.60" y2="7.11" stroke="#262626" stroke-width="1"/>
<line x1="360.30" y1="1.50" x2="363.60" y2="1.50" stroke="#262626" stroke-width="1"/>
<line x1="79.77" y1="118.30" x2="79.77" y2="219.40" stroke="#c4c4c4" stroke-width="0.9" stroke-dasharray="1.9,2"/>
<line x1="122.23" y1="118.30" x2="122.23" y2="219.40" stroke="#c4c4c4" stroke-width="0.9" stroke-dasharray="1.9,2"/>
<line x1="164.70" y1="118.30" x2="164.70" y2="219.40" stroke="#c4c4c4" stroke-width="0.9" stroke-dasharray="1.9,2"/>
<line x1="207.17" y1="118.30" x2="207.17" y2="219.40" stroke="#c4c4c4" stroke-width="0.9" stroke-dasharray="1.9,2"/>
<line x1="249.63" y1="118.30" x2="249.63" y2="219.40" stroke="#c4c4c4" stroke-width="0.9" stroke-dasharray="1.9,2"/>
<line x1="292.10" y1="118.30" x2="292.10" y2="219.40" stroke="#c4c4c4" stroke-width="0.9" stroke-dasharray="1.9,2"/>
<line x1="334.57" y1="118.30" x2="334.57" y2="219.40" stroke="#c4c4c4" stroke-width="0.9" stroke-dasharray="1.9,2"/>
<line x1="37.30" y1="206.76" x2="355.80" y2="206.76" stroke="#bdbdbd" stroke-width="0.9" stroke-dasharray="2.4,1.45"/>
<line x1="37.30" y1="194.12" x2="355.80" y2="194.12" stroke="#bdbdbd" stroke-width="0.9" stroke-dasharray="2.4,1.45"/>
<line x1="37.30" y1="181.49" x2="355.80" y2="181.49" stroke="#bdbdbd" stroke-width="0.9" stroke-dasharray="2.4,1.45"/>
<line x1="37.30" y1="168.85" x2="355.80" y2="168.85" stroke="#bdbdbd" stroke-width="0.9" stroke-dasharray="2.4,1.45"/>
<line x1="37.30" y1="156.21" x2="355.80" y2="156.21" stroke="#bdbdbd" stroke-width="0.9" stroke-dasharray="2.4,1.45"/>
<line x1="37.30" y1="143.57" x2="355.80" y2="143.57" stroke="#bdbdbd" stroke-width="0.9" stroke-dasharray="2.4,1.45"/>
<line x1="37.30" y1="130.94" x2="355.80" y2="130.94" stroke="#bdbdbd" stroke-width="0.9" stroke-dasharray="2.4,1.45"/>
<rect x="341.0" y="120.00" width="13.00" height="96.60" fill="#e3e3e3" stroke="#d0d0d0" stroke-width="0.6"/>
<rect x="324.2" y="172.30" width="29.80" height="44.30" fill="#e3e3e3" stroke="#d0d0d0" stroke-width="0.6"/>
<rect x="341.3" y="120.30" width="12.40" height="96.00" fill="#e3e3e3"/>
<rect x="342.6" y="154.0" width="3.80" height="62.00" fill="#f03a3a" stroke="#4a6a68" stroke-width="0.8"/>
<rect x="348.5" y="162.9" width="3.30" height="53.10" fill="#0fc4f5" stroke="#20609f" stroke-width="0.8"/>
<text x="326.00" y="180.70" font-size="10.5" fill="#1a1a1a" stroke="#1a1a1a" stroke-width="0.18">τ<tspan font-size="5.6" letter-spacing="0.5" fill="#3a3a3a" stroke="none" dx="0.4">max</tspan></text>
<text x="326.00" y="214.30" font-size="10.5" fill="#1a1a1a" stroke="#1a1a1a" stroke-width="0.18">τ<tspan font-size="5.6" letter-spacing="0.5" fill="#3a3a3a" stroke="none" dx="0.4">min</tspan></text>
<line x1="333.10" y1="186.50" x2="333.10" y2="205.80" stroke="#111" stroke-width="1.4"/>
<path d="M333.10,183.50 L335.40,187.80 L330.80,187.80 Z" fill="#111"/>
<path d="M333.10,208.80 L335.40,204.50 L330.80,204.50 Z" fill="#111"/>
<polyline points="47.50,218.20 62.40,218.00 84.00,215.30 104.90,212.80 125.90,212.50 147.50,208.60 168.50,196.00 189.90,180.40 211.30,154.20" fill="none" stroke="#f03a3a" stroke-width="1.2" stroke-linejoin="round"/>
<polyline points="217.50,218.00 243.00,216.00 264.50,210.60 285.70,201.20 306.80,186.30 328.00,163.10" fill="none" stroke="#4a80bb" stroke-width="1.2" stroke-linejoin="round"/>
<circle cx="47.50" cy="218.20" r="2.75" fill="#fff" stroke="#f03a3a" stroke-width="1.1"/><path d="M44.22,218.60 A3.30,3.30 0 1 1 50.78,218.60 Z" fill="#f03a3a"/>
<circle cx="62.40" cy="218.00" r="2.75" fill="#fff" stroke="#f03a3a" stroke-width="1.1"/><path d="M59.12,218.40 A3.30,3.30 0 1 1 65.68,218.40 Z" fill="#f03a3a"/>
<circle cx="84.00" cy="215.30" r="2.75" fill="#fff" stroke="#f03a3a" stroke-width="1.1"/><path d="M80.72,215.70 A3.30,3.30 0 1 1 87.28,215.70 Z" fill="#f03a3a"/>
<circle cx="104.90" cy="212.80" r="2.75" fill="#fff" stroke="#f03a3a" stroke-width="1.1"/><path d="M101.62,213.20 A3.30,3.30 0 1 1 108.18,213.20 Z" fill="#f03a3a"/>
<circle cx="125.90" cy="212.50" r="2.75" fill="#fff" stroke="#f03a3a" stroke-width="1.1"/><path d="M122.62,212.90 A3.30,3.30 0 1 1 129.18,212.90 Z" fill="#f03a3a"/>
<circle cx="147.50" cy="208.60" r="2.75" fill="#fff" stroke="#f03a3a" stroke-width="1.1"/><path d="M144.22,209.00 A3.30,3.30 0 1 1 150.78,209.00 Z" fill="#f03a3a"/>
<circle cx="168.50" cy="196.00" r="2.75" fill="#fff" stroke="#f03a3a" stroke-width="1.1"/><path d="M165.22,196.40 A3.30,3.30 0 1 1 171.78,196.40 Z" fill="#f03a3a"/>
<circle cx="189.90" cy="180.40" r="2.75" fill="#fff" stroke="#f03a3a" stroke-width="1.1"/><path d="M186.62,180.80 A3.30,3.30 0 1 1 193.18,180.80 Z" fill="#f03a3a"/>
<circle cx="211.30" cy="154.20" r="2.75" fill="#fff" stroke="#f03a3a" stroke-width="1.1"/><path d="M208.02,154.60 A3.30,3.30 0 1 1 214.58,154.60 Z" fill="#f03a3a"/>
<rect x="215.00" y="215.50" width="5.0" height="5.0" fill="#0fc4f5" stroke="#2b6ca3" stroke-width="0.9"/>
<rect x="240.50" y="213.50" width="5.0" height="5.0" fill="#0fc4f5" stroke="#2b6ca3" stroke-width="0.9"/>
<rect x="262.00" y="208.10" width="5.0" height="5.0" fill="#0fc4f5" stroke="#2b6ca3" stroke-width="0.9"/>
<rect x="283.20" y="198.70" width="5.0" height="5.0" fill="#0fc4f5" stroke="#2b6ca3" stroke-width="0.9"/>
<rect x="304.30" y="183.80" width="5.0" height="5.0" fill="#0fc4f5" stroke="#2b6ca3" stroke-width="0.9"/>
<rect x="325.50" y="160.60" width="5.0" height="5.0" fill="#0fc4f5" stroke="#2b6ca3" stroke-width="0.9"/>
<rect x="54.6" y="120.6" width="89.2" height="25.6" fill="#e3e3e3" stroke="#333" stroke-width="1.1"/>
<line x1="56.20" y1="127.20" x2="88.40" y2="127.20" stroke="#f03a3a" stroke-width="1.3"/>
<line x1="56.20" y1="139.00" x2="88.40" y2="139.00" stroke="#4a80bb" stroke-width="1.3"/>
<circle cx="72.30" cy="127.20" r="3.7" fill="#fff" stroke="#f03a3a" stroke-width="1.0"/><path d="M68.13,127.70 A4.20,4.20 0 1 1 76.47,127.70 Z" fill="#f03a3a"/>
<rect x="68.30" y="135.00" width="8.0" height="8.0" fill="#0fc4f5" stroke="#2b6ca3" stroke-width="1.3"/>
<line x1="68.30" y1="139.00" x2="76.30" y2="139.00" stroke="#2b6ca3" stroke-width="1.0" opacity="0.7"/>
<text x="90.10" y="130.70" font-size="11" fill="#222" stroke="#222" stroke-width="0.18">MD-20 mm</text>
<text x="90.10" y="142.50" font-size="11" fill="#222" stroke="#222" stroke-width="0.18">CD-20 mm</text>
<text x="40.70" y="128.50" font-size="11.2" fill="#f52020" stroke="#f52020" stroke-width="0.18">(c)</text>
<line x1="36.70" y1="219.40" x2="356.40" y2="219.40" stroke="#262626" stroke-width="1.3"/>
<line x1="37.30" y1="118.30" x2="37.30" y2="219.40" stroke="#4a4a4a" stroke-width="1.3"/>
<line x1="36.70" y1="118.30" x2="356.40" y2="118.30" stroke="#2a2a2a" stroke-width="1.3"/>
<line x1="355.80" y1="118.30" x2="355.80" y2="219.40" stroke="#858585" stroke-width="1.6"/>
<line x1="37.30" y1="219.40" x2="37.30" y2="222.70" stroke="#262626" stroke-width="1"/>
<line x1="58.53" y1="219.40" x2="58.53" y2="221.60" stroke="#262626" stroke-width="1"/>
<line x1="79.77" y1="219.40" x2="79.77" y2="222.70" stroke="#262626" stroke-width="1"/>
<line x1="101.00" y1="219.40" x2="101.00" y2="221.60" stroke="#262626" stroke-width="1"/>
<line x1="122.23" y1="219.40" x2="122.23" y2="222.70" stroke="#262626" stroke-width="1"/>
<line x1="143.47" y1="219.40" x2="143.47" y2="221.60" stroke="#262626" stroke-width="1"/>
<line x1="164.70" y1="219.40" x2="164.70" y2="222.70" stroke="#262626" stroke-width="1"/>
<line x1="185.93" y1="219.40" x2="185.93" y2="221.60" stroke="#262626" stroke-width="1"/>
<line x1="207.17" y1="219.40" x2="207.17" y2="222.70" stroke="#262626" stroke-width="1"/>
<line x1="228.40" y1="219.40" x2="228.40" y2="221.60" stroke="#262626" stroke-width="1"/>
<line x1="249.63" y1="219.40" x2="249.63" y2="222.70" stroke="#262626" stroke-width="1"/>
<line x1="270.87" y1="219.40" x2="270.87" y2="221.60" stroke="#262626" stroke-width="1"/>
<line x1="292.10" y1="219.40" x2="292.10" y2="222.70" stroke="#262626" stroke-width="1"/>
<line x1="313.33" y1="219.40" x2="313.33" y2="221.60" stroke="#262626" stroke-width="1"/>
<line x1="334.57" y1="219.40" x2="334.57" y2="222.70" stroke="#262626" stroke-width="1"/>
<line x1="355.80" y1="219.40" x2="355.80" y2="221.60" stroke="#262626" stroke-width="1"/>
<text x="79.77" y="231.50" font-size="11" fill="#1e1e1e" text-anchor="middle" textLength="18.3" lengthAdjust="spacingAndGlyphs" stroke="#1e1e1e" stroke-width="0.18">0.52</text>
<text x="122.23" y="231.50" font-size="11" fill="#1e1e1e" text-anchor="middle" textLength="18.3" lengthAdjust="spacingAndGlyphs" stroke="#1e1e1e" stroke-width="0.18">0.54</text>
<text x="164.70" y="231.50" font-size="11" fill="#1e1e1e" text-anchor="middle" textLength="18.3" lengthAdjust="spacingAndGlyphs" stroke="#1e1e1e" stroke-width="0.18">0.56</text>
<text x="207.17" y="231.50" font-size="11" fill="#1e1e1e" text-anchor="middle" textLength="18.3" lengthAdjust="spacingAndGlyphs" stroke="#1e1e1e" stroke-width="0.18">0.58</text>
<text x="249.63" y="231.50" font-size="11" fill="#1e1e1e" text-anchor="middle" textLength="18.3" lengthAdjust="spacingAndGlyphs" stroke="#1e1e1e" stroke-width="0.18">0.60</text>
<text x="292.10" y="231.50" font-size="11" fill="#1e1e1e" text-anchor="middle" textLength="18.3" lengthAdjust="spacingAndGlyphs" stroke="#1e1e1e" stroke-width="0.18">0.62</text>
<text x="334.57" y="231.50" font-size="11" fill="#1e1e1e" text-anchor="middle" textLength="18.3" lengthAdjust="spacingAndGlyphs" stroke="#1e1e1e" stroke-width="0.18">0.64</text>
<line x1="34.00" y1="219.40" x2="37.30" y2="219.40" stroke="#262626" stroke-width="1"/>
<line x1="35.20" y1="213.08" x2="37.30" y2="213.08" stroke="#262626" stroke-width="1"/>
<line x1="34.00" y1="206.76" x2="37.30" y2="206.76" stroke="#262626" stroke-width="1"/>
<line x1="35.20" y1="200.44" x2="37.30" y2="200.44" stroke="#262626" stroke-width="1"/>
<line x1="34.00" y1="194.12" x2="37.30" y2="194.12" stroke="#262626" stroke-width="1"/>
<line x1="35.20" y1="187.81" x2="37.30" y2="187.81" stroke="#262626" stroke-width="1"/>
<line x1="34.00" y1="181.49" x2="37.30" y2="181.49" stroke="#262626" stroke-width="1"/>
<line x1="35.20" y1="175.17" x2="37.30" y2="175.17" stroke="#262626" stroke-width="1"/>
<line x1="34.00" y1="168.85" x2="37.30" y2="168.85" stroke="#262626" stroke-width="1"/>
<line x1="35.20" y1="162.53" x2="37.30" y2="162.53" stroke="#262626" stroke-width="1"/>
<line x1="34.00" y1="156.21" x2="37.30" y2="156.21" stroke="#262626" stroke-width="1"/>
<line x1="35.20" y1="149.89" x2="37.30" y2="149.89" stroke="#262626" stroke-width="1"/>
<line x1="34.00" y1="143.57" x2="37.30" y2="143.57" stroke="#262626" stroke-width="1"/>
<line x1="35.20" y1="137.26" x2="37.30" y2="137.26" stroke="#262626" stroke-width="1"/>
<line x1="34.00" y1="130.94" x2="37.30" y2="130.94" stroke="#262626" stroke-width="1"/>
<line x1="35.20" y1="124.62" x2="37.30" y2="124.62" stroke="#262626" stroke-width="1"/>
<line x1="34.00" y1="118.30" x2="37.30" y2="118.30" stroke="#262626" stroke-width="1"/>
<text x="32.40" y="223.00" font-size="11" fill="#1e1e1e" text-anchor="end" stroke="#1e1e1e" stroke-width="0.18">0</text>
<text x="32.40" y="210.36" font-size="11" fill="#1e1e1e" text-anchor="end" stroke="#1e1e1e" stroke-width="0.18">40</text>
<text x="32.40" y="197.72" font-size="11" fill="#1e1e1e" text-anchor="end" stroke="#1e1e1e" stroke-width="0.18">80</text>
<text x="32.40" y="185.09" font-size="11" fill="#1e1e1e" text-anchor="end" stroke="#1e1e1e" stroke-width="0.18">120</text>
<text x="32.40" y="172.45" font-size="11" fill="#1e1e1e" text-anchor="end" stroke="#1e1e1e" stroke-width="0.18">160</text>
<text x="32.40" y="159.81" font-size="11" fill="#1e1e1e" text-anchor="end" stroke="#1e1e1e" stroke-width="0.18">200</text>
<text x="32.40" y="147.17" font-size="11" fill="#1e1e1e" text-anchor="end" stroke="#1e1e1e" stroke-width="0.18">240</text>
<text x="32.40" y="134.54" font-size="11" fill="#1e1e1e" text-anchor="end" stroke="#1e1e1e" stroke-width="0.18">280</text>
<text x="32.40" y="121.90" font-size="11" fill="#1e1e1e" text-anchor="end" stroke="#1e1e1e" stroke-width="0.18">320</text>
<line x1="416.68" y1="118.30" x2="416.68" y2="219.40" stroke="#c4c4c4" stroke-width="0.9" stroke-dasharray="1.9,2"/>
<line x1="469.77" y1="118.30" x2="469.77" y2="219.40" stroke="#c4c4c4" stroke-width="0.9" stroke-dasharray="1.9,2"/>
<line x1="522.85" y1="118.30" x2="522.85" y2="219.40" stroke="#c4c4c4" stroke-width="0.9" stroke-dasharray="1.9,2"/>
<line x1="575.93" y1="118.30" x2="575.93" y2="219.40" stroke="#c4c4c4" stroke-width="0.9" stroke-dasharray="1.9,2"/>
<line x1="629.02" y1="118.30" x2="629.02" y2="219.40" stroke="#c4c4c4" stroke-width="0.9" stroke-dasharray="1.9,2"/>
<line x1="363.60" y1="206.76" x2="682.10" y2="206.76" stroke="#bdbdbd" stroke-width="0.9" stroke-dasharray="2.4,1.45"/>
<line x1="363.60" y1="194.12" x2="682.10" y2="194.12" stroke="#bdbdbd" stroke-width="0.9" stroke-dasharray="2.4,1.45"/>
<line x1="363.60" y1="181.49" x2="682.10" y2="181.49" stroke="#bdbdbd" stroke-width="0.9" stroke-dasharray="2.4,1.45"/>
<line x1="363.60" y1="168.85" x2="682.10" y2="168.85" stroke="#bdbdbd" stroke-width="0.9" stroke-dasharray="2.4,1.45"/>
<line x1="363.60" y1="156.21" x2="682.10" y2="156.21" stroke="#bdbdbd" stroke-width="0.9" stroke-dasharray="2.4,1.45"/>
<line x1="363.60" y1="143.57" x2="682.10" y2="143.57" stroke="#bdbdbd" stroke-width="0.9" stroke-dasharray="2.4,1.45"/>
<line x1="363.60" y1="130.94" x2="682.10" y2="130.94" stroke="#bdbdbd" stroke-width="0.9" stroke-dasharray="2.4,1.45"/>
<rect x="667.1" y="120.00" width="12.80" height="96.60" fill="#e3e3e3" stroke="#d0d0d0" stroke-width="0.6"/>
<rect x="650.5" y="172.30" width="29.40" height="44.30" fill="#e3e3e3" stroke="#d0d0d0" stroke-width="0.6"/>
<rect x="667.4" y="120.30" width="12.20" height="96.00" fill="#e3e3e3"/>
<rect x="669.2" y="123.6" width="3.20" height="92.40" fill="#f03a3a" stroke="#4a6a68" stroke-width="0.8"/>
<rect x="674.5" y="160.0" width="3.70" height="56.00" fill="#0fc4f5" stroke="#20609f" stroke-width="0.8"/>
<text x="652.30" y="180.70" font-size="10.5" fill="#1a1a1a" stroke="#1a1a1a" stroke-width="0.18">τ<tspan font-size="5.6" letter-spacing="0.5" fill="#3a3a3a" stroke="none" dx="0.4">max</tspan></text>
<text x="652.30" y="214.30" font-size="10.5" fill="#1a1a1a" stroke="#1a1a1a" stroke-width="0.18">τ<tspan font-size="5.6" letter-spacing="0.5" fill="#3a3a3a" stroke="none" dx="0.4">min</tspan></text>
<line x1="659.40" y1="186.50" x2="659.40" y2="205.80" stroke="#111" stroke-width="1.4"/>
<path d="M659.40,183.50 L661.70,187.80 L657.10,187.80 Z" fill="#111"/>
<path d="M659.40,208.80 L661.70,204.50 L657.10,204.50 Z" fill="#111"/>
<polyline points="376.80,217.30 394.80,215.70 421.30,212.20 448.00,206.20 474.70,196.70 500.90,178.80 527.80,155.70 554.30,123.60" fill="none" stroke="#f03a3a" stroke-width="1.2" stroke-linejoin="round"/>
<polyline points="517.10,216.00 544.00,215.50 570.50,206.50 596.90,201.60 623.60,179.80 650.10,159.80" fill="none" stroke="#4a80bb" stroke-width="1.2" stroke-linejoin="round"/>
<circle cx="376.80" cy="217.30" r="2.75" fill="#fff" stroke="#f03a3a" stroke-width="1.1"/><path d="M373.52,217.70 A3.30,3.30 0 1 1 380.08,217.70 Z" fill="#f03a3a"/>
<circle cx="394.80" cy="215.70" r="2.75" fill="#fff" stroke="#f03a3a" stroke-width="1.1"/><path d="M391.52,216.10 A3.30,3.30 0 1 1 398.08,216.10 Z" fill="#f03a3a"/>
<circle cx="421.30" cy="212.20" r="2.75" fill="#fff" stroke="#f03a3a" stroke-width="1.1"/><path d="M418.02,212.60 A3.30,3.30 0 1 1 424.58,212.60 Z" fill="#f03a3a"/>
<circle cx="448.00" cy="206.20" r="2.75" fill="#fff" stroke="#f03a3a" stroke-width="1.1"/><path d="M444.72,206.60 A3.30,3.30 0 1 1 451.28,206.60 Z" fill="#f03a3a"/>
<circle cx="474.70" cy="196.70" r="2.75" fill="#fff" stroke="#f03a3a" stroke-width="1.1"/><path d="M471.42,197.10 A3.30,3.30 0 1 1 477.98,197.10 Z" fill="#f03a3a"/>
<circle cx="500.90" cy="178.80" r="2.75" fill="#fff" stroke="#f03a3a" stroke-width="1.1"/><path d="M497.62,179.20 A3.30,3.30 0 1 1 504.18,179.20 Z" fill="#f03a3a"/>
<circle cx="527.80" cy="155.70" r="2.75" fill="#fff" stroke="#f03a3a" stroke-width="1.1"/><path d="M524.52,156.10 A3.30,3.30 0 1 1 531.08,156.10 Z" fill="#f03a3a"/>
<circle cx="554.30" cy="123.60" r="2.75" fill="#fff" stroke="#f03a3a" stroke-width="1.1"/><path d="M551.02,124.00 A3.30,3.30 0 1 1 557.58,124.00 Z" fill="#f03a3a"/>
<rect x="514.60" y="213.50" width="5.0" height="5.0" fill="#0fc4f5" stroke="#2b6ca3" stroke-width="0.9"/>
<rect x="541.50" y="213.00" width="5.0" height="5.0" fill="#0fc4f5" stroke="#2b6ca3" stroke-width="0.9"/>
<rect x="568.00" y="204.00" width="5.0" height="5.0" fill="#0fc4f5" stroke="#2b6ca3" stroke-width="0.9"/>
<rect x="594.40" y="199.10" width="5.0" height="5.0" fill="#0fc4f5" stroke="#2b6ca3" stroke-width="0.9"/>
<rect x="621.10" y="177.30" width="5.0" height="5.0" fill="#0fc4f5" stroke="#2b6ca3" stroke-width="0.9"/>
<rect x="647.60" y="157.30" width="5.0" height="5.0" fill="#0fc4f5" stroke="#2b6ca3" stroke-width="0.9"/>
<rect x="380.7" y="120.5" width="88.6" height="25.7" fill="#e3e3e3" stroke="#333" stroke-width="1.1"/>
<line x1="382.30" y1="127.10" x2="414.50" y2="127.10" stroke="#f03a3a" stroke-width="1.3"/>
<line x1="382.30" y1="138.90" x2="414.50" y2="138.90" stroke="#4a80bb" stroke-width="1.3"/>
<circle cx="398.40" cy="127.10" r="3.7" fill="#fff" stroke="#f03a3a" stroke-width="1.0"/><path d="M394.23,127.60 A4.20,4.20 0 1 1 402.57,127.60 Z" fill="#f03a3a"/>
<rect x="394.40" y="134.90" width="8.0" height="8.0" fill="#0fc4f5" stroke="#2b6ca3" stroke-width="1.3"/>
<line x1="394.40" y1="138.90" x2="402.40" y2="138.90" stroke="#2b6ca3" stroke-width="1.0" opacity="0.7"/>
<text x="416.30" y="130.60" font-size="11" fill="#222" stroke="#222" stroke-width="0.18">MD-30 mm</text>
<text x="416.30" y="142.40" font-size="11" fill="#222" stroke="#222" stroke-width="0.18">CD-30 mm</text>
<text x="367.00" y="128.50" font-size="11.2" fill="#f52020" stroke="#f52020" stroke-width="0.18">(d)</text>
<line x1="363.00" y1="219.40" x2="682.70" y2="219.40" stroke="#262626" stroke-width="1.3"/>
<line x1="363.60" y1="118.30" x2="363.60" y2="219.40" stroke="#333" stroke-width="1.3"/>
<line x1="363.00" y1="118.30" x2="682.70" y2="118.30" stroke="#2a2a2a" stroke-width="1.3"/>
<line x1="682.10" y1="118.30" x2="682.10" y2="219.40" stroke="#858585" stroke-width="1.6"/>
<line x1="363.60" y1="219.40" x2="363.60" y2="222.70" stroke="#262626" stroke-width="1"/>
<line x1="390.14" y1="219.40" x2="390.14" y2="221.60" stroke="#262626" stroke-width="1"/>
<line x1="416.68" y1="219.40" x2="416.68" y2="222.70" stroke="#262626" stroke-width="1"/>
<line x1="443.23" y1="219.40" x2="443.23" y2="221.60" stroke="#262626" stroke-width="1"/>
<line x1="469.77" y1="219.40" x2="469.77" y2="222.70" stroke="#262626" stroke-width="1"/>
<line x1="496.31" y1="219.40" x2="496.31" y2="221.60" stroke="#262626" stroke-width="1"/>
<line x1="522.85" y1="219.40" x2="522.85" y2="222.70" stroke="#262626" stroke-width="1"/>
<line x1="549.39" y1="219.40" x2="549.39" y2="221.60" stroke="#262626" stroke-width="1"/>
<line x1="575.93" y1="219.40" x2="575.93" y2="222.70" stroke="#262626" stroke-width="1"/>
<line x1="602.47" y1="219.40" x2="602.47" y2="221.60" stroke="#262626" stroke-width="1"/>
<line x1="629.02" y1="219.40" x2="629.02" y2="222.70" stroke="#262626" stroke-width="1"/>
<line x1="655.56" y1="219.40" x2="655.56" y2="221.60" stroke="#262626" stroke-width="1"/>
<line x1="682.10" y1="219.40" x2="682.10" y2="222.70" stroke="#262626" stroke-width="1"/>
<text x="416.68" y="231.50" font-size="11" fill="#1e1e1e" text-anchor="middle" textLength="18.3" lengthAdjust="spacingAndGlyphs" stroke="#1e1e1e" stroke-width="0.18">0.56</text>
<text x="469.77" y="231.50" font-size="11" fill="#1e1e1e" text-anchor="middle" textLength="18.3" lengthAdjust="spacingAndGlyphs" stroke="#1e1e1e" stroke-width="0.18">0.58</text>
<text x="522.85" y="231.50" font-size="11" fill="#1e1e1e" text-anchor="middle" textLength="18.3" lengthAdjust="spacingAndGlyphs" stroke="#1e1e1e" stroke-width="0.18">0.60</text>
<text x="575.93" y="231.50" font-size="11" fill="#1e1e1e" text-anchor="middle" textLength="18.3" lengthAdjust="spacingAndGlyphs" stroke="#1e1e1e" stroke-width="0.18">0.62</text>
<text x="629.02" y="231.50" font-size="11" fill="#1e1e1e" text-anchor="middle" textLength="18.3" lengthAdjust="spacingAndGlyphs" stroke="#1e1e1e" stroke-width="0.18">0.64</text>
<line x1="360.30" y1="219.40" x2="363.60" y2="219.40" stroke="#262626" stroke-width="1"/>
<line x1="361.50" y1="213.08" x2="363.60" y2="213.08" stroke="#262626" stroke-width="1"/>
<line x1="360.30" y1="206.76" x2="363.60" y2="206.76" stroke="#262626" stroke-width="1"/>
<line x1="361.50" y1="200.44" x2="363.60" y2="200.44" stroke="#262626" stroke-width="1"/>
<line x1="360.30" y1="194.12" x2="363.60" y2="194.12" stroke="#262626" stroke-width="1"/>
<line x1="361.50" y1="187.81" x2="363.60" y2="187.81" stroke="#262626" stroke-width="1"/>
<line x1="360.30" y1="181.49" x2="363.60" y2="181.49" stroke="#262626" stroke-width="1"/>
<line x1="361.50" y1="175.17" x2="363.60" y2="175.17" stroke="#262626" stroke-width="1"/>
<line x1="360.30" y1="168.85" x2="363.60" y2="168.85" stroke="#262626" stroke-width="1"/>
<line x1="361.50" y1="162.53" x2="363.60" y2="162.53" stroke="#262626" stroke-width="1"/>
<line x1="360.30" y1="156.21" x2="363.60" y2="156.21" stroke="#262626" stroke-width="1"/>
<line x1="361.50" y1="149.89" x2="363.60" y2="149.89" stroke="#262626" stroke-width="1"/>
<line x1="360.30" y1="143.57" x2="363.60" y2="143.57" stroke="#262626" stroke-width="1"/>
<line x1="361.50" y1="137.26" x2="363.60" y2="137.26" stroke="#262626" stroke-width="1"/>
<line x1="360.30" y1="130.94" x2="363.60" y2="130.94" stroke="#262626" stroke-width="1"/>
<line x1="361.50" y1="124.62" x2="363.60" y2="124.62" stroke="#262626" stroke-width="1"/>
<line x1="360.30" y1="118.30" x2="363.60" y2="118.30" stroke="#262626" stroke-width="1"/>
<line x1="65.00" y1="238.30" x2="65.00" y2="339.40" stroke="#c4c4c4" stroke-width="0.9" stroke-dasharray="1.9,2"/>
<line x1="92.69" y1="238.30" x2="92.69" y2="339.40" stroke="#c4c4c4" stroke-width="0.9" stroke-dasharray="1.9,2"/>
<line x1="120.39" y1="238.30" x2="120.39" y2="339.40" stroke="#c4c4c4" stroke-width="0.9" stroke-dasharray="1.9,2"/>
<line x1="148.08" y1="238.30" x2="148.08" y2="339.40" stroke="#c4c4c4" stroke-width="0.9" stroke-dasharray="1.9,2"/>
<line x1="175.78" y1="238.30" x2="175.78" y2="339.40" stroke="#c4c4c4" stroke-width="0.9" stroke-dasharray="1.9,2"/>
<line x1="203.47" y1="238.30" x2="203.47" y2="339.40" stroke="#c4c4c4" stroke-width="0.9" stroke-dasharray="1.9,2"/>
<line x1="231.17" y1="238.30" x2="231.17" y2="339.40" stroke="#c4c4c4" stroke-width="0.9" stroke-dasharray="1.9,2"/>
<line x1="258.87" y1="238.30" x2="258.87" y2="339.40" stroke="#c4c4c4" stroke-width="0.9" stroke-dasharray="1.9,2"/>
<line x1="286.56" y1="238.30" x2="286.56" y2="339.40" stroke="#c4c4c4" stroke-width="0.9" stroke-dasharray="1.9,2"/>
<line x1="314.26" y1="238.30" x2="314.26" y2="339.40" stroke="#c4c4c4" stroke-width="0.9" stroke-dasharray="1.9,2"/>
<line x1="341.95" y1="238.30" x2="341.95" y2="339.40" stroke="#c4c4c4" stroke-width="0.9" stroke-dasharray="1.9,2"/>
<line x1="37.30" y1="322.55" x2="355.80" y2="322.55" stroke="#bdbdbd" stroke-width="0.9" stroke-dasharray="2.4,1.45"/>
<line x1="37.30" y1="305.70" x2="355.80" y2="305.70" stroke="#bdbdbd" stroke-width="0.9" stroke-dasharray="2.4,1.45"/>
<line x1="37.30" y1="288.85" x2="355.80" y2="288.85" stroke="#bdbdbd" stroke-width="0.9" stroke-dasharray="2.4,1.45"/>
<line x1="37.30" y1="272.00" x2="355.80" y2="272.00" stroke="#bdbdbd" stroke-width="0.9" stroke-dasharray="2.4,1.45"/>
<line x1="37.30" y1="255.15" x2="355.80" y2="255.15" stroke="#bdbdbd" stroke-width="0.9" stroke-dasharray="2.4,1.45"/>
<rect x="341.0" y="240.00" width="13.00" height="96.60" fill="#e3e3e3" stroke="#d0d0d0" stroke-width="0.6"/>
<rect x="324.2" y="292.30" width="29.80" height="44.30" fill="#e3e3e3" stroke="#d0d0d0" stroke-width="0.6"/>
<rect x="341.3" y="240.30" width="12.40" height="96.00" fill="#e3e3e3"/>
<rect x="342.6" y="249.9" width="3.80" height="84.50" fill="#fa8418" stroke="#5a7068" stroke-width="0.8"/>
<rect x="348.5" y="268.5" width="3.30" height="60.90" fill="#3eaaf8" stroke="#2a6ab0" stroke-width="0.8"/>
<text x="326.00" y="299.90" font-size="10.5" fill="#1a1a1a" stroke="#1a1a1a" stroke-width="0.18">η<tspan font-size="5.6" letter-spacing="0.5" fill="#3a3a3a" stroke="none" dx="0.4">max</tspan></text>
<text x="326.00" y="332.50" font-size="10.5" fill="#1a1a1a" stroke="#1a1a1a" stroke-width="0.18">η<tspan font-size="5.6" letter-spacing="0.5" fill="#3a3a3a" stroke="none" dx="0.4">min</tspan></text>
<line x1="333.10" y1="305.30" x2="333.10" y2="323.80" stroke="#111" stroke-width="1.4"/>
<path d="M333.10,302.30 L335.40,306.60 L330.80,306.60 Z" fill="#111"/>
<path d="M333.10,326.80 L335.40,322.50 L330.80,322.50 Z" fill="#111"/>
<polyline points="49.40,334.80 59.00,334.00 72.90,332.30 86.80,329.80 100.70,329.00 114.60,324.80 128.50,319.60 142.40,308.40 156.10,301.50 170.00,285.40 183.80,249.90" fill="none" stroke="#fa8418" stroke-width="1.2" stroke-linejoin="round"/>
<polyline points="208.90,329.40 214.40,327.70 228.00,324.70 241.90,321.20 255.60,316.50 269.50,311.30 283.70,301.40 297.40,290.40 311.30,277.70 325.40,269.00" fill="none" stroke="#2457c0" stroke-width="1.2" stroke-linejoin="round"/>
<path d="M49.40,331.70 L52.50,334.80 L49.40,337.90 L46.30,334.80 Z" fill="#fff" stroke="#fa8418" stroke-width="1.3"/><path d="M49.40,330.92 L52.88,335.20 L45.92,335.20 Z" fill="#fa8418"/>
<path d="M59.00,330.90 L62.10,334.00 L59.00,337.10 L55.90,334.00 Z" fill="#fff" stroke="#fa8418" stroke-width="1.3"/><path d="M59.00,330.12 L62.48,334.40 L55.52,334.40 Z" fill="#fa8418"/>
<path d="M72.90,329.20 L76.00,332.30 L72.90,335.40 L69.80,332.30 Z" fill="#fff" stroke="#fa8418" stroke-width="1.3"/><path d="M72.90,328.42 L76.38,332.70 L69.42,332.70 Z" fill="#fa8418"/>
<path d="M86.80,326.70 L89.90,329.80 L86.80,332.90 L83.70,329.80 Z" fill="#fff" stroke="#fa8418" stroke-width="1.3"/><path d="M86.80,325.92 L90.28,330.20 L83.32,330.20 Z" fill="#fa8418"/>
<path d="M100.70,325.90 L103.80,329.00 L100.70,332.10 L97.60,329.00 Z" fill="#fff" stroke="#fa8418" stroke-width="1.3"/><path d="M100.70,325.12 L104.18,329.40 L97.22,329.40 Z" fill="#fa8418"/>
<path d="M114.60,321.70 L117.70,324.80 L114.60,327.90 L111.50,324.80 Z" fill="#fff" stroke="#fa8418" stroke-width="1.3"/><path d="M114.60,320.92 L118.08,325.20 L111.12,325.20 Z" fill="#fa8418"/>
<path d="M128.50,316.50 L131.60,319.60 L128.50,322.70 L125.40,319.60 Z" fill="#fff" stroke="#fa8418" stroke-width="1.3"/><path d="M128.50,315.72 L131.98,320.00 L125.02,320.00 Z" fill="#fa8418"/>
<path d="M142.40,305.30 L145.50,308.40 L142.40,311.50 L139.30,308.40 Z" fill="#fff" stroke="#fa8418" stroke-width="1.3"/><path d="M142.40,304.52 L145.88,308.80 L138.92,308.80 Z" fill="#fa8418"/>
<path d="M156.10,298.40 L159.20,301.50 L156.10,304.60 L153.00,301.50 Z" fill="#fff" stroke="#fa8418" stroke-width="1.3"/><path d="M156.10,297.62 L159.58,301.90 L152.62,301.90 Z" fill="#fa8418"/>
<path d="M170.00,282.30 L173.10,285.40 L170.00,288.50 L166.90,285.40 Z" fill="#fff" stroke="#fa8418" stroke-width="1.3"/><path d="M170.00,281.52 L173.48,285.80 L166.52,285.80 Z" fill="#fa8418"/>
<path d="M183.80,246.80 L186.90,249.90 L183.80,253.00 L180.70,249.90 Z" fill="#fff" stroke="#fa8418" stroke-width="1.3"/><path d="M183.80,246.02 L187.28,250.30 L180.32,250.30 Z" fill="#fa8418"/>
<path d="M208.90,326.10 L212.20,332.40 L205.60,332.40 Z" fill="#3eaaf8" stroke="#1a5cb8" stroke-width="1" stroke-linejoin="miter"/>
<path d="M214.40,324.40 L217.70,330.70 L211.10,330.70 Z" fill="#3eaaf8" stroke="#1a5cb8" stroke-width="1" stroke-linejoin="miter"/>
<path d="M228.00,321.40 L231.30,327.70 L224.70,327.70 Z" fill="#3eaaf8" stroke="#1a5cb8" stroke-width="1" stroke-linejoin="miter"/>
<path d="M241.90,317.90 L245.20,324.20 L238.60,324.20 Z" fill="#3eaaf8" stroke="#1a5cb8" stroke-width="1" stroke-linejoin="miter"/>
<path d="M255.60,313.20 L258.90,319.50 L252.30,319.50 Z" fill="#3eaaf8" stroke="#1a5cb8" stroke-width="1" stroke-linejoin="miter"/>
<path d="M269.50,308.00 L272.80,314.30 L266.20,314.30 Z" fill="#3eaaf8" stroke="#1a5cb8" stroke-width="1" stroke-linejoin="miter"/>
<path d="M283.70,298.10 L287.00,304.40 L280.40,304.40 Z" fill="#3eaaf8" stroke="#1a5cb8" stroke-width="1" stroke-linejoin="miter"/>
<path d="M297.40,287.10 L300.70,293.40 L294.10,293.40 Z" fill="#3eaaf8" stroke="#1a5cb8" stroke-width="1" stroke-linejoin="miter"/>
<path d="M311.30,274.40 L314.60,280.70 L308.00,280.70 Z" fill="#3eaaf8" stroke="#1a5cb8" stroke-width="1" stroke-linejoin="miter"/>
<path d="M325.40,265.70 L328.70,272.00 L322.10,272.00 Z" fill="#3eaaf8" stroke="#1a5cb8" stroke-width="1" stroke-linejoin="miter"/>
<rect x="57.3" y="240.3" width="83.4" height="25.5" fill="#e3e3e3" stroke="#333" stroke-width="1.1"/>
<line x1="60.20" y1="246.90" x2="92.20" y2="246.90" stroke="#fa8418" stroke-width="1.3"/>
<line x1="60.20" y1="258.70" x2="92.20" y2="258.70" stroke="#2457c0" stroke-width="1.3"/>
<path d="M76.20,243.20 L79.90,246.90 L76.20,250.60 L72.50,246.90 Z" fill="#fff" stroke="#fa8418" stroke-width="1.3"/><path d="M76.20,242.42 L80.28,247.30 L72.12,247.30 Z" fill="#fa8418"/>
<path d="M76.20,254.40 L80.10,261.50 L72.30,261.50 Z" fill="#3eaaf8" stroke="#1a5cb8" stroke-width="1" stroke-linejoin="miter"/>
<text x="93.40" y="250.40" font-size="11" fill="#222" stroke="#222" stroke-width="0.18">MD-5mm</text>
<text x="93.40" y="262.20" font-size="11" fill="#222" stroke="#222" stroke-width="0.18">CD-5 mm</text>
<text x="40.70" y="248.50" font-size="11.2" fill="#f52020" stroke="#f52020" stroke-width="0.18">(a')</text>
<line x1="36.70" y1="339.40" x2="356.40" y2="339.40" stroke="#262626" stroke-width="1.3"/>
<line x1="37.30" y1="238.30" x2="37.30" y2="339.40" stroke="#5a5a5a" stroke-width="1.3"/>
<line x1="36.70" y1="238.30" x2="356.40" y2="238.30" stroke="#2a2a2a" stroke-width="1.3"/>
<line x1="355.80" y1="238.30" x2="355.80" y2="339.40" stroke="#858585" stroke-width="1.6"/>
<line x1="37.30" y1="339.40" x2="37.30" y2="342.70" stroke="#262626" stroke-width="1"/>
<line x1="51.15" y1="339.40" x2="51.15" y2="341.60" stroke="#262626" stroke-width="1"/>
<line x1="65.00" y1="339.40" x2="65.00" y2="342.70" stroke="#262626" stroke-width="1"/>
<line x1="78.84" y1="339.40" x2="78.84" y2="341.60" stroke="#262626" stroke-width="1"/>
<line x1="92.69" y1="339.40" x2="92.69" y2="342.70" stroke="#262626" stroke-width="1"/>
<line x1="106.54" y1="339.40" x2="106.54" y2="341.60" stroke="#262626" stroke-width="1"/>
<line x1="120.39" y1="339.40" x2="120.39" y2="342.70" stroke="#262626" stroke-width="1"/>
<line x1="134.23" y1="339.40" x2="134.23" y2="341.60" stroke="#262626" stroke-width="1"/>
<line x1="148.08" y1="339.40" x2="148.08" y2="342.70" stroke="#262626" stroke-width="1"/>
<line x1="161.93" y1="339.40" x2="161.93" y2="341.60" stroke="#262626" stroke-width="1"/>
<line x1="175.78" y1="339.40" x2="175.78" y2="342.70" stroke="#262626" stroke-width="1"/>
<line x1="189.63" y1="339.40" x2="189.63" y2="341.60" stroke="#262626" stroke-width="1"/>
<line x1="203.47" y1="339.40" x2="203.47" y2="342.70" stroke="#262626" stroke-width="1"/>
<line x1="217.32" y1="339.40" x2="217.32" y2="341.60" stroke="#262626" stroke-width="1"/>
<line x1="231.17" y1="339.40" x2="231.17" y2="342.70" stroke="#262626" stroke-width="1"/>
<line x1="245.02" y1="339.40" x2="245.02" y2="341.60" stroke="#262626" stroke-width="1"/>
<line x1="258.87" y1="339.40" x2="258.87" y2="342.70" stroke="#262626" stroke-width="1"/>
<line x1="272.71" y1="339.40" x2="272.71" y2="341.60" stroke="#262626" stroke-width="1"/>
<line x1="286.56" y1="339.40" x2="286.56" y2="342.70" stroke="#262626" stroke-width="1"/>
<line x1="300.41" y1="339.40" x2="300.41" y2="341.60" stroke="#262626" stroke-width="1"/>
<line x1="314.26" y1="339.40" x2="314.26" y2="342.70" stroke="#262626" stroke-width="1"/>
<line x1="328.10" y1="339.40" x2="328.10" y2="341.60" stroke="#262626" stroke-width="1"/>
<line x1="341.95" y1="339.40" x2="341.95" y2="342.70" stroke="#262626" stroke-width="1"/>
<line x1="355.80" y1="339.40" x2="355.80" y2="341.60" stroke="#262626" stroke-width="1"/>
<text x="65.00" y="351.50" font-size="11" fill="#1e1e1e" text-anchor="middle" textLength="18.3" lengthAdjust="spacingAndGlyphs" stroke="#1e1e1e" stroke-width="0.18">0.38</text>
<text x="92.69" y="351.50" font-size="11" fill="#1e1e1e" text-anchor="middle" textLength="18.3" lengthAdjust="spacingAndGlyphs" stroke="#1e1e1e" stroke-width="0.18">0.40</text>
<text x="120.39" y="351.50" font-size="11" fill="#1e1e1e" text-anchor="middle" textLength="18.3" lengthAdjust="spacingAndGlyphs" stroke="#1e1e1e" stroke-width="0.18">0.42</text>
<text x="148.08" y="351.50" font-size="11" fill="#1e1e1e" text-anchor="middle" textLength="18.3" lengthAdjust="spacingAndGlyphs" stroke="#1e1e1e" stroke-width="0.18">0.44</text>
<text x="175.78" y="351.50" font-size="11" fill="#1e1e1e" text-anchor="middle" textLength="18.3" lengthAdjust="spacingAndGlyphs" stroke="#1e1e1e" stroke-width="0.18">0.46</text>
<text x="203.47" y="351.50" font-size="11" fill="#1e1e1e" text-anchor="middle" textLength="18.3" lengthAdjust="spacingAndGlyphs" stroke="#1e1e1e" stroke-width="0.18">0.48</text>
<text x="231.17" y="351.50" font-size="11" fill="#1e1e1e" text-anchor="middle" textLength="18.3" lengthAdjust="spacingAndGlyphs" stroke="#1e1e1e" stroke-width="0.18">0.50</text>
<text x="258.87" y="351.50" font-size="11" fill="#1e1e1e" text-anchor="middle" textLength="18.3" lengthAdjust="spacingAndGlyphs" stroke="#1e1e1e" stroke-width="0.18">0.52</text>
<text x="286.56" y="351.50" font-size="11" fill="#1e1e1e" text-anchor="middle" textLength="18.3" lengthAdjust="spacingAndGlyphs" stroke="#1e1e1e" stroke-width="0.18">0.54</text>
<text x="314.26" y="351.50" font-size="11" fill="#1e1e1e" text-anchor="middle" textLength="18.3" lengthAdjust="spacingAndGlyphs" stroke="#1e1e1e" stroke-width="0.18">0.56</text>
<text x="341.95" y="351.50" font-size="11" fill="#1e1e1e" text-anchor="middle" textLength="18.3" lengthAdjust="spacingAndGlyphs" stroke="#1e1e1e" stroke-width="0.18">0.58</text>
<line x1="34.00" y1="339.40" x2="37.30" y2="339.40" stroke="#262626" stroke-width="1"/>
<line x1="35.20" y1="330.97" x2="37.30" y2="330.97" stroke="#262626" stroke-width="1"/>
<line x1="34.00" y1="322.55" x2="37.30" y2="322.55" stroke="#262626" stroke-width="1"/>
<line x1="35.20" y1="314.12" x2="37.30" y2="314.12" stroke="#262626" stroke-width="1"/>
<line x1="34.00" y1="305.70" x2="37.30" y2="305.70" stroke="#262626" stroke-width="1"/>
<line x1="35.20" y1="297.27" x2="37.30" y2="297.27" stroke="#262626" stroke-width="1"/>
<line x1="34.00" y1="288.85" x2="37.30" y2="288.85" stroke="#262626" stroke-width="1"/>
<line x1="35.20" y1="280.43" x2="37.30" y2="280.43" stroke="#262626" stroke-width="1"/>
<line x1="34.00" y1="272.00" x2="37.30" y2="272.00" stroke="#262626" stroke-width="1"/>
<line x1="35.20" y1="263.57" x2="37.30" y2="263.57" stroke="#262626" stroke-width="1"/>
<line x1="34.00" y1="255.15" x2="37.30" y2="255.15" stroke="#262626" stroke-width="1"/>
<line x1="35.20" y1="246.73" x2="37.30" y2="246.73" stroke="#262626" stroke-width="1"/>
<line x1="34.00" y1="238.30" x2="37.30" y2="238.30" stroke="#262626" stroke-width="1"/>
<text x="32.40" y="343.00" font-size="11" fill="#1e1e1e" text-anchor="end" stroke="#1e1e1e" stroke-width="0.18">0</text>
<text x="32.40" y="326.15" font-size="11" fill="#1e1e1e" text-anchor="end" stroke="#1e1e1e" stroke-width="0.18">0.5</text>
<text x="32.40" y="309.30" font-size="11" fill="#1e1e1e" text-anchor="end" stroke="#1e1e1e" stroke-width="0.18">1.0</text>
<text x="32.40" y="292.45" font-size="11" fill="#1e1e1e" text-anchor="end" stroke="#1e1e1e" stroke-width="0.18">1.5</text>
<text x="32.40" y="275.60" font-size="11" fill="#1e1e1e" text-anchor="end" stroke="#1e1e1e" stroke-width="0.18">2.0</text>
<text x="32.40" y="258.75" font-size="11" fill="#1e1e1e" text-anchor="end" stroke="#1e1e1e" stroke-width="0.18">2.5</text>
<line x1="379.53" y1="238.30" x2="379.53" y2="339.40" stroke="#c4c4c4" stroke-width="0.9" stroke-dasharray="1.9,2"/>
<line x1="411.38" y1="238.30" x2="411.38" y2="339.40" stroke="#c4c4c4" stroke-width="0.9" stroke-dasharray="1.9,2"/>
<line x1="443.23" y1="238.30" x2="443.23" y2="339.40" stroke="#c4c4c4" stroke-width="0.9" stroke-dasharray="1.9,2"/>
<line x1="475.08" y1="238.30" x2="475.08" y2="339.40" stroke="#c4c4c4" stroke-width="0.9" stroke-dasharray="1.9,2"/>
<line x1="506.93" y1="238.30" x2="506.93" y2="339.40" stroke="#c4c4c4" stroke-width="0.9" stroke-dasharray="1.9,2"/>
<line x1="538.78" y1="238.30" x2="538.78" y2="339.40" stroke="#c4c4c4" stroke-width="0.9" stroke-dasharray="1.9,2"/>
<line x1="570.63" y1="238.30" x2="570.63" y2="339.40" stroke="#c4c4c4" stroke-width="0.9" stroke-dasharray="1.9,2"/>
<line x1="602.48" y1="238.30" x2="602.48" y2="339.40" stroke="#c4c4c4" stroke-width="0.9" stroke-dasharray="1.9,2"/>
<line x1="634.33" y1="238.30" x2="634.33" y2="339.40" stroke="#c4c4c4" stroke-width="0.9" stroke-dasharray="1.9,2"/>
<line x1="666.17" y1="238.30" x2="666.17" y2="339.40" stroke="#c4c4c4" stroke-width="0.9" stroke-dasharray="1.9,2"/>
<line x1="363.60" y1="322.55" x2="682.10" y2="322.55" stroke="#bdbdbd" stroke-width="0.9" stroke-dasharray="2.4,1.45"/>
<line x1="363.60" y1="305.70" x2="682.10" y2="305.70" stroke="#bdbdbd" stroke-width="0.9" stroke-dasharray="2.4,1.45"/>
<line x1="363.60" y1="288.85" x2="682.10" y2="288.85" stroke="#bdbdbd" stroke-width="0.9" stroke-dasharray="2.4,1.45"/>
<line x1="363.60" y1="272.00" x2="682.10" y2="272.00" stroke="#bdbdbd" stroke-width="0.9" stroke-dasharray="2.4,1.45"/>
<line x1="363.60" y1="255.15" x2="682.10" y2="255.15" stroke="#bdbdbd" stroke-width="0.9" stroke-dasharray="2.4,1.45"/>
<rect x="667.1" y="240.00" width="12.80" height="96.60" fill="#e3e3e3" stroke="#d0d0d0" stroke-width="0.6"/>
<rect x="650.5" y="292.30" width="29.40" height="44.30" fill="#e3e3e3" stroke="#d0d0d0" stroke-width="0.6"/>
<rect x="667.4" y="240.30" width="12.20" height="96.00" fill="#e3e3e3"/>
<rect x="669.2" y="282.3" width="3.20" height="51.10" fill="#fa8418" stroke="#5a7068" stroke-width="0.8"/>
<rect x="674.5" y="252.9" width="3.70" height="76.60" fill="#3eaaf8" stroke="#2a6ab0" stroke-width="0.8"/>
<text x="652.30" y="299.90" font-size="10.5" fill="#1a1a1a" stroke="#1a1a1a" stroke-width="0.18">η<tspan font-size="5.6" letter-spacing="0.5" fill="#3a3a3a" stroke="none" dx="0.4">max</tspan></text>
<text x="652.30" y="332.50" font-size="10.5" fill="#1a1a1a" stroke="#1a1a1a" stroke-width="0.18">η<tspan font-size="5.6" letter-spacing="0.5" fill="#3a3a3a" stroke="none" dx="0.4">min</tspan></text>
<line x1="659.40" y1="305.30" x2="659.40" y2="323.80" stroke="#111" stroke-width="1.4"/>
<path d="M659.40,302.30 L661.70,306.60 L657.10,306.60 Z" fill="#111"/>
<path d="M659.40,326.80 L661.70,322.50 L657.10,322.50 Z" fill="#111"/>
<polyline points="376.10,333.90 393.50,332.20 409.70,330.70 425.30,329.40 441.20,324.00 457.10,319.50 473.30,312.30 489.20,300.90 505.10,291.70 521.00,282.20" fill="none" stroke="#fa8418" stroke-width="1.2" stroke-linejoin="round"/>
<polyline points="517.70,329.00 525.60,327.70 541.40,326.20 557.50,322.40 573.40,318.30 589.50,308.80 605.30,303.50 621.10,292.50 637.20,280.00 653.10,253.70" fill="none" stroke="#2457c0" stroke-width="1.2" stroke-linejoin="round"/>
<path d="M376.10,330.80 L379.20,333.90 L376.10,337.00 L373.00,333.90 Z" fill="#fff" stroke="#fa8418" stroke-width="1.3"/><path d="M376.10,330.02 L379.58,334.30 L372.62,334.30 Z" fill="#fa8418"/>
<path d="M393.50,329.10 L396.60,332.20 L393.50,335.30 L390.40,332.20 Z" fill="#fff" stroke="#fa8418" stroke-width="1.3"/><path d="M393.50,328.32 L396.98,332.60 L390.02,332.60 Z" fill="#fa8418"/>
<path d="M409.70,327.60 L412.80,330.70 L409.70,333.80 L406.60,330.70 Z" fill="#fff" stroke="#fa8418" stroke-width="1.3"/><path d="M409.70,326.82 L413.18,331.10 L406.22,331.10 Z" fill="#fa8418"/>
<path d="M425.30,326.30 L428.40,329.40 L425.30,332.50 L422.20,329.40 Z" fill="#fff" stroke="#fa8418" stroke-width="1.3"/><path d="M425.30,325.52 L428.78,329.80 L421.82,329.80 Z" fill="#fa8418"/>
<path d="M441.20,320.90 L444.30,324.00 L441.20,327.10 L438.10,324.00 Z" fill="#fff" stroke="#fa8418" stroke-width="1.3"/><path d="M441.20,320.12 L444.68,324.40 L437.72,324.40 Z" fill="#fa8418"/>
<path d="M457.10,316.40 L460.20,319.50 L457.10,322.60 L454.00,319.50 Z" fill="#fff" stroke="#fa8418" stroke-width="1.3"/><path d="M457.10,315.62 L460.58,319.90 L453.62,319.90 Z" fill="#fa8418"/>
<path d="M473.30,309.20 L476.40,312.30 L473.30,315.40 L470.20,312.30 Z" fill="#fff" stroke="#fa8418" stroke-width="1.3"/><path d="M473.30,308.42 L476.78,312.70 L469.82,312.70 Z" fill="#fa8418"/>
<path d="M489.20,297.80 L492.30,300.90 L489.20,304.00 L486.10,300.90 Z" fill="#fff" stroke="#fa8418" stroke-width="1.3"/><path d="M489.20,297.02 L492.68,301.30 L485.72,301.30 Z" fill="#fa8418"/>
<path d="M505.10,288.60 L508.20,291.70 L505.10,294.80 L502.00,291.70 Z" fill="#fff" stroke="#fa8418" stroke-width="1.3"/><path d="M505.10,287.82 L508.58,292.10 L501.62,292.10 Z" fill="#fa8418"/>
<path d="M521.00,279.10 L524.10,282.20 L521.00,285.30 L517.90,282.20 Z" fill="#fff" stroke="#fa8418" stroke-width="1.3"/><path d="M521.00,278.32 L524.48,282.60 L517.52,282.60 Z" fill="#fa8418"/>
<path d="M517.70,325.70 L521.00,332.00 L514.40,332.00 Z" fill="#3eaaf8" stroke="#1a5cb8" stroke-width="1" stroke-linejoin="miter"/>
<path d="M525.60,324.40 L528.90,330.70 L522.30,330.70 Z" fill="#3eaaf8" stroke="#1a5cb8" stroke-width="1" stroke-linejoin="miter"/>
<path d="M541.40,322.90 L544.70,329.20 L538.10,329.20 Z" fill="#3eaaf8" stroke="#1a5cb8" stroke-width="1" stroke-linejoin="miter"/>
<path d="M557.50,319.10 L560.80,325.40 L554.20,325.40 Z" fill="#3eaaf8" stroke="#1a5cb8" stroke-width="1" stroke-linejoin="miter"/>
<path d="M573.40,315.00 L576.70,321.30 L570.10,321.30 Z" fill="#3eaaf8" stroke="#1a5cb8" stroke-width="1" stroke-linejoin="miter"/>
<path d="M589.50,305.50 L592.80,311.80 L586.20,311.80 Z" fill="#3eaaf8" stroke="#1a5cb8" stroke-width="1" stroke-linejoin="miter"/>
<path d="M605.30,300.20 L608.60,306.50 L602.00,306.50 Z" fill="#3eaaf8" stroke="#1a5cb8" stroke-width="1" stroke-linejoin="miter"/>
<path d="M621.10,289.20 L624.40,295.50 L617.80,295.50 Z" fill="#3eaaf8" stroke="#1a5cb8" stroke-width="1" stroke-linejoin="miter"/>
<path d="M637.20,276.70 L640.50,283.00 L633.90,283.00 Z" fill="#3eaaf8" stroke="#1a5cb8" stroke-width="1" stroke-linejoin="miter"/>
<path d="M653.10,250.40 L656.40,256.70 L649.80,256.70 Z" fill="#3eaaf8" stroke="#1a5cb8" stroke-width="1" stroke-linejoin="miter"/>
<rect x="383.6" y="240.2" width="88.7" height="25.9" fill="#e3e3e3" stroke="#333" stroke-width="1.1"/>
<line x1="386.50" y1="246.80" x2="418.50" y2="246.80" stroke="#fa8418" stroke-width="1.3"/>
<line x1="386.50" y1="258.60" x2="418.50" y2="258.60" stroke="#2457c0" stroke-width="1.3"/>
<path d="M402.50,243.10 L406.20,246.80 L402.50,250.50 L398.80,246.80 Z" fill="#fff" stroke="#fa8418" stroke-width="1.3"/><path d="M402.50,242.32 L406.58,247.20 L398.42,247.20 Z" fill="#fa8418"/>
<path d="M402.50,254.30 L406.40,261.40 L398.60,261.40 Z" fill="#3eaaf8" stroke="#1a5cb8" stroke-width="1" stroke-linejoin="miter"/>
<text x="419.10" y="250.30" font-size="11" fill="#222" stroke="#222" stroke-width="0.18">MD-10 mm</text>
<text x="419.10" y="262.10" font-size="11" fill="#222" stroke="#222" stroke-width="0.18">CD-10 mm</text>
<text x="367.00" y="248.50" font-size="11.2" fill="#f52020" stroke="#f52020" stroke-width="0.18">(b')</text>
<line x1="363.00" y1="339.40" x2="682.70" y2="339.40" stroke="#262626" stroke-width="1.3"/>
<line x1="363.60" y1="238.30" x2="363.60" y2="339.40" stroke="#333" stroke-width="1.3"/>
<line x1="363.00" y1="238.30" x2="682.70" y2="238.30" stroke="#2a2a2a" stroke-width="1.3"/>
<line x1="682.10" y1="238.30" x2="682.10" y2="339.40" stroke="#858585" stroke-width="1.6"/>
<line x1="363.60" y1="339.40" x2="363.60" y2="341.60" stroke="#262626" stroke-width="1"/>
<line x1="379.53" y1="339.40" x2="379.53" y2="342.70" stroke="#262626" stroke-width="1"/>
<line x1="395.45" y1="339.40" x2="395.45" y2="341.60" stroke="#262626" stroke-width="1"/>
<line x1="411.38" y1="339.40" x2="411.38" y2="342.70" stroke="#262626" stroke-width="1"/>
<line x1="427.30" y1="339.40" x2="427.30" y2="341.60" stroke="#262626" stroke-width="1"/>
<line x1="443.23" y1="339.40" x2="443.23" y2="342.70" stroke="#262626" stroke-width="1"/>
<line x1="459.15" y1="339.40" x2="459.15" y2="341.60" stroke="#262626" stroke-width="1"/>
<line x1="475.08" y1="339.40" x2="475.08" y2="342.70" stroke="#262626" stroke-width="1"/>
<line x1="491.00" y1="339.40" x2="491.00" y2="341.60" stroke="#262626" stroke-width="1"/>
<line x1="506.93" y1="339.40" x2="506.93" y2="342.70" stroke="#262626" stroke-width="1"/>
<line x1="522.85" y1="339.40" x2="522.85" y2="341.60" stroke="#262626" stroke-width="1"/>
<line x1="538.78" y1="339.40" x2="538.78" y2="342.70" stroke="#262626" stroke-width="1"/>
<line x1="554.70" y1="339.40" x2="554.70" y2="341.60" stroke="#262626" stroke-width="1"/>
<line x1="570.63" y1="339.40" x2="570.63" y2="342.70" stroke="#262626" stroke-width="1"/>
<line x1="586.55" y1="339.40" x2="586.55" y2="341.60" stroke="#262626" stroke-width="1"/>
<line x1="602.47" y1="339.40" x2="602.47" y2="342.70" stroke="#262626" stroke-width="1"/>
<line x1="618.40" y1="339.40" x2="618.40" y2="341.60" stroke="#262626" stroke-width="1"/>
<line x1="634.33" y1="339.40" x2="634.33" y2="342.70" stroke="#262626" stroke-width="1"/>
<line x1="650.25" y1="339.40" x2="650.25" y2="341.60" stroke="#262626" stroke-width="1"/>
<line x1="666.17" y1="339.40" x2="666.17" y2="342.70" stroke="#262626" stroke-width="1"/>
<line x1="682.10" y1="339.40" x2="682.10" y2="341.60" stroke="#262626" stroke-width="1"/>
<text x="379.53" y="351.50" font-size="11" fill="#1e1e1e" text-anchor="middle" textLength="18.3" lengthAdjust="spacingAndGlyphs" stroke="#1e1e1e" stroke-width="0.18">0.42</text>
<text x="411.38" y="351.50" font-size="11" fill="#1e1e1e" text-anchor="middle" textLength="18.3" lengthAdjust="spacingAndGlyphs" stroke="#1e1e1e" stroke-width="0.18">0.44</text>
<text x="443.23" y="351.50" font-size="11" fill="#1e1e1e" text-anchor="middle" textLength="18.3" lengthAdjust="spacingAndGlyphs" stroke="#1e1e1e" stroke-width="0.18">0.46</text>
<text x="475.08" y="351.50" font-size="11" fill="#1e1e1e" text-anchor="middle" textLength="18.3" lengthAdjust="spacingAndGlyphs" stroke="#1e1e1e" stroke-width="0.18">0.48</text>
<text x="506.93" y="351.50" font-size="11" fill="#1e1e1e" text-anchor="middle" textLength="18.3" lengthAdjust="spacingAndGlyphs" stroke="#1e1e1e" stroke-width="0.18">0.50</text>
<text x="538.78" y="351.50" font-size="11" fill="#1e1e1e" text-anchor="middle" textLength="18.3" lengthAdjust="spacingAndGlyphs" stroke="#1e1e1e" stroke-width="0.18">0.52</text>
<text x="570.63" y="351.50" font-size="11" fill="#1e1e1e" text-anchor="middle" textLength="18.3" lengthAdjust="spacingAndGlyphs" stroke="#1e1e1e" stroke-width="0.18">0.54</text>
<text x="602.48" y="351.50" font-size="11" fill="#1e1e1e" text-anchor="middle" textLength="18.3" lengthAdjust="spacingAndGlyphs" stroke="#1e1e1e" stroke-width="0.18">0.56</text>
<text x="634.33" y="351.50" font-size="11" fill="#1e1e1e" text-anchor="middle" textLength="18.3" lengthAdjust="spacingAndGlyphs" stroke="#1e1e1e" stroke-width="0.18">0.58</text>
<text x="666.17" y="351.50" font-size="11" fill="#1e1e1e" text-anchor="middle" textLength="18.3" lengthAdjust="spacingAndGlyphs" stroke="#1e1e1e" stroke-width="0.18">0.60</text>
<line x1="360.30" y1="339.40" x2="363.60" y2="339.40" stroke="#262626" stroke-width="1"/>
<line x1="361.50" y1="330.97" x2="363.60" y2="330.97" stroke="#262626" stroke-width="1"/>
<line x1="360.30" y1="322.55" x2="363.60" y2="322.55" stroke="#262626" stroke-width="1"/>
<line x1="361.50" y1="314.12" x2="363.60" y2="314.12" stroke="#262626" stroke-width="1"/>
<line x1="360.30" y1="305.70" x2="363.60" y2="305.70" stroke="#262626" stroke-width="1"/>
<line x1="361.50" y1="297.27" x2="363.60" y2="297.27" stroke="#262626" stroke-width="1"/>
<line x1="360.30" y1="288.85" x2="363.60" y2="288.85" stroke="#262626" stroke-width="1"/>
<line x1="361.50" y1="280.43" x2="363.60" y2="280.43" stroke="#262626" stroke-width="1"/>
<line x1="360.30" y1="272.00" x2="363.60" y2="272.00" stroke="#262626" stroke-width="1"/>
<line x1="361.50" y1="263.57" x2="363.60" y2="263.57" stroke="#262626" stroke-width="1"/>
<line x1="360.30" y1="255.15" x2="363.60" y2="255.15" stroke="#262626" stroke-width="1"/>
<line x1="361.50" y1="246.73" x2="363.60" y2="246.73" stroke="#262626" stroke-width="1"/>
<line x1="360.30" y1="238.30" x2="363.60" y2="238.30" stroke="#262626" stroke-width="1"/>
<line x1="79.77" y1="355.50" x2="79.77" y2="456.50" stroke="#c4c4c4" stroke-width="0.9" stroke-dasharray="1.9,2"/>
<line x1="122.23" y1="355.50" x2="122.23" y2="456.50" stroke="#c4c4c4" stroke-width="0.9" stroke-dasharray="1.9,2"/>
<line x1="164.70" y1="355.50" x2="164.70" y2="456.50" stroke="#c4c4c4" stroke-width="0.9" stroke-dasharray="1.9,2"/>
<line x1="207.17" y1="355.50" x2="207.17" y2="456.50" stroke="#c4c4c4" stroke-width="0.9" stroke-dasharray="1.9,2"/>
<line x1="249.63" y1="355.50" x2="249.63" y2="456.50" stroke="#c4c4c4" stroke-width="0.9" stroke-dasharray="1.9,2"/>
<line x1="292.10" y1="355.50" x2="292.10" y2="456.50" stroke="#c4c4c4" stroke-width="0.9" stroke-dasharray="1.9,2"/>
<line x1="334.57" y1="355.50" x2="334.57" y2="456.50" stroke="#c4c4c4" stroke-width="0.9" stroke-dasharray="1.9,2"/>
<line x1="37.30" y1="439.67" x2="355.80" y2="439.67" stroke="#bdbdbd" stroke-width="0.9" stroke-dasharray="2.4,1.45"/>
<line x1="37.30" y1="422.83" x2="355.80" y2="422.83" stroke="#bdbdbd" stroke-width="0.9" stroke-dasharray="2.4,1.45"/>
<line x1="37.30" y1="406.00" x2="355.80" y2="406.00" stroke="#bdbdbd" stroke-width="0.9" stroke-dasharray="2.4,1.45"/>
<line x1="37.30" y1="389.17" x2="355.80" y2="389.17" stroke="#bdbdbd" stroke-width="0.9" stroke-dasharray="2.4,1.45"/>
<line x1="37.30" y1="372.33" x2="355.80" y2="372.33" stroke="#bdbdbd" stroke-width="0.9" stroke-dasharray="2.4,1.45"/>
<rect x="341.0" y="357.20" width="13.00" height="96.50" fill="#e3e3e3" stroke="#d0d0d0" stroke-width="0.6"/>
<rect x="324.2" y="409.50" width="29.80" height="44.20" fill="#e3e3e3" stroke="#d0d0d0" stroke-width="0.6"/>
<rect x="341.3" y="357.50" width="12.40" height="95.90" fill="#e3e3e3"/>
<rect x="342.6" y="374.1" width="3.80" height="45.00" fill="#fa8418" stroke="#5a7068" stroke-width="0.8"/>
<rect x="348.5" y="371.9" width="3.30" height="45.20" fill="#3eaaf8" stroke="#2a6ab0" stroke-width="0.8"/>
<text x="326.00" y="417.10" font-size="10.5" fill="#1a1a1a" stroke="#1a1a1a" stroke-width="0.18">η<tspan font-size="5.6" letter-spacing="0.5" fill="#3a3a3a" stroke="none" dx="0.4">max</tspan></text>
<text x="326.00" y="449.70" font-size="10.5" fill="#1a1a1a" stroke="#1a1a1a" stroke-width="0.18">η<tspan font-size="5.6" letter-spacing="0.5" fill="#3a3a3a" stroke="none" dx="0.4">min</tspan></text>
<line x1="333.10" y1="422.50" x2="333.10" y2="441.00" stroke="#111" stroke-width="1.4"/>
<path d="M333.10,419.50 L335.40,423.80 L330.80,423.80 Z" fill="#111"/>
<path d="M333.10,444.00 L335.40,439.70 L330.80,439.70 Z" fill="#111"/>
<polyline points="47.40,419.60 62.30,414.10 83.40,408.60 104.80,401.90 126.20,392.70 147.80,382.30 168.70,383.50 190.00,383.50 211.10,374.10" fill="none" stroke="#fa8418" stroke-width="1.2" stroke-linejoin="round"/>
<polyline points="217.60,416.60 242.70,403.70 263.80,397.70 285.70,387.30 306.80,386.30 328.20,371.60" fill="none" stroke="#2457c0" stroke-width="1.2" stroke-linejoin="round"/>
<path d="M47.40,416.50 L50.50,419.60 L47.40,422.70 L44.30,419.60 Z" fill="#fff" stroke="#fa8418" stroke-width="1.3"/><path d="M47.40,415.72 L50.88,420.00 L43.92,420.00 Z" fill="#fa8418"/>
<path d="M62.30,411.00 L65.40,414.10 L62.30,417.20 L59.20,414.10 Z" fill="#fff" stroke="#fa8418" stroke-width="1.3"/><path d="M62.30,410.22 L65.78,414.50 L58.82,414.50 Z" fill="#fa8418"/>
<path d="M83.40,405.50 L86.50,408.60 L83.40,411.70 L80.30,408.60 Z" fill="#fff" stroke="#fa8418" stroke-width="1.3"/><path d="M83.40,404.72 L86.88,409.00 L79.92,409.00 Z" fill="#fa8418"/>
<path d="M104.80,398.80 L107.90,401.90 L104.80,405.00 L101.70,401.90 Z" fill="#fff" stroke="#fa8418" stroke-width="1.3"/><path d="M104.80,398.02 L108.28,402.30 L101.32,402.30 Z" fill="#fa8418"/>
<path d="M126.20,389.60 L129.30,392.70 L126.20,395.80 L123.10,392.70 Z" fill="#fff" stroke="#fa8418" stroke-width="1.3"/><path d="M126.20,388.82 L129.68,393.10 L122.72,393.10 Z" fill="#fa8418"/>
<path d="M147.80,379.20 L150.90,382.30 L147.80,385.40 L144.70,382.30 Z" fill="#fff" stroke="#fa8418" stroke-width="1.3"/><path d="M147.80,378.42 L151.28,382.70 L144.32,382.70 Z" fill="#fa8418"/>
<path d="M168.70,380.40 L171.80,383.50 L168.70,386.60 L165.60,383.50 Z" fill="#fff" stroke="#fa8418" stroke-width="1.3"/><path d="M168.70,379.62 L172.18,383.90 L165.22,383.90 Z" fill="#fa8418"/>
<path d="M190.00,380.40 L193.10,383.50 L190.00,386.60 L186.90,383.50 Z" fill="#fff" stroke="#fa8418" stroke-width="1.3"/><path d="M190.00,379.62 L193.48,383.90 L186.52,383.90 Z" fill="#fa8418"/>
<path d="M211.10,371.00 L214.20,374.10 L211.10,377.20 L208.00,374.10 Z" fill="#fff" stroke="#fa8418" stroke-width="1.3"/><path d="M211.10,370.22 L214.58,374.50 L207.62,374.50 Z" fill="#fa8418"/>
<path d="M217.60,413.30 L220.90,419.60 L214.30,419.60 Z" fill="#3eaaf8" stroke="#1a5cb8" stroke-width="1" stroke-linejoin="miter"/>
<path d="M242.70,400.40 L246.00,406.70 L239.40,406.70 Z" fill="#3eaaf8" stroke="#1a5cb8" stroke-width="1" stroke-linejoin="miter"/>
<path d="M263.80,394.40 L267.10,400.70 L260.50,400.70 Z" fill="#3eaaf8" stroke="#1a5cb8" stroke-width="1" stroke-linejoin="miter"/>
<path d="M285.70,384.00 L289.00,390.30 L282.40,390.30 Z" fill="#3eaaf8" stroke="#1a5cb8" stroke-width="1" stroke-linejoin="miter"/>
<path d="M306.80,383.00 L310.10,389.30 L303.50,389.30 Z" fill="#3eaaf8" stroke="#1a5cb8" stroke-width="1" stroke-linejoin="miter"/>
<path d="M328.20,368.30 L331.50,374.60 L324.90,374.60 Z" fill="#3eaaf8" stroke="#1a5cb8" stroke-width="1" stroke-linejoin="miter"/>
<rect x="39.0" y="428.8" width="88.5" height="25.5" fill="#e3e3e3" stroke="#333" stroke-width="1.1"/>
<line x1="41.90" y1="435.40" x2="73.90" y2="435.40" stroke="#fa8418" stroke-width="1.3"/>
<line x1="41.90" y1="447.20" x2="73.90" y2="447.20" stroke="#2457c0" stroke-width="1.3"/>
<path d="M57.90,431.70 L61.60,435.40 L57.90,439.10 L54.20,435.40 Z" fill="#fff" stroke="#fa8418" stroke-width="1.3"/><path d="M57.90,430.92 L61.98,435.80 L53.82,435.80 Z" fill="#fa8418"/>
<path d="M57.90,442.90 L61.80,450.00 L54.00,450.00 Z" fill="#3eaaf8" stroke="#1a5cb8" stroke-width="1" stroke-linejoin="miter"/>
<text x="74.40" y="438.90" font-size="11" fill="#222" stroke="#222" stroke-width="0.18">MD-20 mm</text>
<text x="74.40" y="450.70" font-size="11" fill="#222" stroke="#222" stroke-width="0.18">CD-20 mm</text>
<text x="40.70" y="365.70" font-size="11.2" fill="#f52020" stroke="#f52020" stroke-width="0.18">(c')</text>
<line x1="36.70" y1="456.50" x2="356.40" y2="456.50" stroke="#262626" stroke-width="1.3"/>
<line x1="37.30" y1="355.50" x2="37.30" y2="456.50" stroke="#858585" stroke-width="1.3"/>
<line x1="36.70" y1="355.50" x2="356.40" y2="355.50" stroke="#2a2a2a" stroke-width="1.3"/>
<line x1="355.80" y1="355.50" x2="355.80" y2="456.50" stroke="#333" stroke-width="1.6"/>
<line x1="37.30" y1="456.50" x2="37.30" y2="459.80" stroke="#262626" stroke-width="1"/>
<line x1="58.53" y1="456.50" x2="58.53" y2="458.70" stroke="#262626" stroke-width="1"/>
<line x1="79.77" y1="456.50" x2="79.77" y2="459.80" stroke="#262626" stroke-width="1"/>
<line x1="101.00" y1="456.50" x2="101.00" y2="458.70" stroke="#262626" stroke-width="1"/>
<line x1="122.23" y1="456.50" x2="122.23" y2="459.80" stroke="#262626" stroke-width="1"/>
<line x1="143.47" y1="456.50" x2="143.47" y2="458.70" stroke="#262626" stroke-width="1"/>
<line x1="164.70" y1="456.50" x2="164.70" y2="459.80" stroke="#262626" stroke-width="1"/>
<line x1="185.93" y1="456.50" x2="185.93" y2="458.70" stroke="#262626" stroke-width="1"/>
<line x1="207.17" y1="456.50" x2="207.17" y2="459.80" stroke="#262626" stroke-width="1"/>
<line x1="228.40" y1="456.50" x2="228.40" y2="458.70" stroke="#262626" stroke-width="1"/>
<line x1="249.63" y1="456.50" x2="249.63" y2="459.80" stroke="#262626" stroke-width="1"/>
<line x1="270.87" y1="456.50" x2="270.87" y2="458.70" stroke="#262626" stroke-width="1"/>
<line x1="292.10" y1="456.50" x2="292.10" y2="459.80" stroke="#262626" stroke-width="1"/>
<line x1="313.33" y1="456.50" x2="313.33" y2="458.70" stroke="#262626" stroke-width="1"/>
<line x1="334.57" y1="456.50" x2="334.57" y2="459.80" stroke="#262626" stroke-width="1"/>
<line x1="355.80" y1="456.50" x2="355.80" y2="458.70" stroke="#262626" stroke-width="1"/>
<text x="79.77" y="468.60" font-size="11" fill="#1e1e1e" text-anchor="middle" textLength="18.3" lengthAdjust="spacingAndGlyphs" stroke="#1e1e1e" stroke-width="0.18">0.52</text>
<text x="122.23" y="468.60" font-size="11" fill="#1e1e1e" text-anchor="middle" textLength="18.3" lengthAdjust="spacingAndGlyphs" stroke="#1e1e1e" stroke-width="0.18">0.54</text>
<text x="164.70" y="468.60" font-size="11" fill="#1e1e1e" text-anchor="middle" textLength="18.3" lengthAdjust="spacingAndGlyphs" stroke="#1e1e1e" stroke-width="0.18">0.56</text>
<text x="207.17" y="468.60" font-size="11" fill="#1e1e1e" text-anchor="middle" textLength="18.3" lengthAdjust="spacingAndGlyphs" stroke="#1e1e1e" stroke-width="0.18">0.58</text>
<text x="249.63" y="468.60" font-size="11" fill="#1e1e1e" text-anchor="middle" textLength="18.3" lengthAdjust="spacingAndGlyphs" stroke="#1e1e1e" stroke-width="0.18">0.60</text>
<text x="292.10" y="468.60" font-size="11" fill="#1e1e1e" text-anchor="middle" textLength="18.3" lengthAdjust="spacingAndGlyphs" stroke="#1e1e1e" stroke-width="0.18">0.62</text>
<text x="334.57" y="468.60" font-size="11" fill="#1e1e1e" text-anchor="middle" textLength="18.3" lengthAdjust="spacingAndGlyphs" stroke="#1e1e1e" stroke-width="0.18">0.64</text>
<line x1="34.00" y1="456.50" x2="37.30" y2="456.50" stroke="#262626" stroke-width="1"/>
<line x1="35.20" y1="448.08" x2="37.30" y2="448.08" stroke="#262626" stroke-width="1"/>
<line x1="34.00" y1="439.67" x2="37.30" y2="439.67" stroke="#262626" stroke-width="1"/>
<line x1="35.20" y1="431.25" x2="37.30" y2="431.25" stroke="#262626" stroke-width="1"/>
<line x1="34.00" y1="422.83" x2="37.30" y2="422.83" stroke="#262626" stroke-width="1"/>
<line x1="35.20" y1="414.42" x2="37.30" y2="414.42" stroke="#262626" stroke-width="1"/>
<line x1="34.00" y1="406.00" x2="37.30" y2="406.00" stroke="#262626" stroke-width="1"/>
<line x1="35.20" y1="397.58" x2="37.30" y2="397.58" stroke="#262626" stroke-width="1"/>
<line x1="34.00" y1="389.17" x2="37.30" y2="389.17" stroke="#262626" stroke-width="1"/>
<line x1="35.20" y1="380.75" x2="37.30" y2="380.75" stroke="#262626" stroke-width="1"/>
<line x1="34.00" y1="372.33" x2="37.30" y2="372.33" stroke="#262626" stroke-width="1"/>
<line x1="35.20" y1="363.92" x2="37.30" y2="363.92" stroke="#262626" stroke-width="1"/>
<line x1="34.00" y1="355.50" x2="37.30" y2="355.50" stroke="#262626" stroke-width="1"/>
<text x="32.40" y="460.10" font-size="11" fill="#1e1e1e" text-anchor="end" stroke="#1e1e1e" stroke-width="0.18">0</text>
<text x="32.40" y="443.27" font-size="11" fill="#1e1e1e" text-anchor="end" stroke="#1e1e1e" stroke-width="0.18">1.0</text>
<text x="32.40" y="426.43" font-size="11" fill="#1e1e1e" text-anchor="end" stroke="#1e1e1e" stroke-width="0.18">2.0</text>
<text x="32.40" y="409.60" font-size="11" fill="#1e1e1e" text-anchor="end" stroke="#1e1e1e" stroke-width="0.18">3.0</text>
<text x="32.40" y="392.77" font-size="11" fill="#1e1e1e" text-anchor="end" stroke="#1e1e1e" stroke-width="0.18">4.0</text>
<text x="32.40" y="375.93" font-size="11" fill="#1e1e1e" text-anchor="end" stroke="#1e1e1e" stroke-width="0.18">5.0</text>
<text x="32.40" y="359.10" font-size="11" fill="#1e1e1e" text-anchor="end" stroke="#1e1e1e" stroke-width="0.18">6.0</text>
<line x1="416.68" y1="355.50" x2="416.68" y2="456.50" stroke="#c4c4c4" stroke-width="0.9" stroke-dasharray="1.9,2"/>
<line x1="469.77" y1="355.50" x2="469.77" y2="456.50" stroke="#c4c4c4" stroke-width="0.9" stroke-dasharray="1.9,2"/>
<line x1="522.85" y1="355.50" x2="522.85" y2="456.50" stroke="#c4c4c4" stroke-width="0.9" stroke-dasharray="1.9,2"/>
<line x1="575.93" y1="355.50" x2="575.93" y2="456.50" stroke="#c4c4c4" stroke-width="0.9" stroke-dasharray="1.9,2"/>
<line x1="629.02" y1="355.50" x2="629.02" y2="456.50" stroke="#c4c4c4" stroke-width="0.9" stroke-dasharray="1.9,2"/>
<line x1="363.60" y1="439.67" x2="682.10" y2="439.67" stroke="#bdbdbd" stroke-width="0.9" stroke-dasharray="2.4,1.45"/>
<line x1="363.60" y1="422.83" x2="682.10" y2="422.83" stroke="#bdbdbd" stroke-width="0.9" stroke-dasharray="2.4,1.45"/>
<line x1="363.60" y1="406.00" x2="682.10" y2="406.00" stroke="#bdbdbd" stroke-width="0.9" stroke-dasharray="2.4,1.45"/>
<line x1="363.60" y1="389.17" x2="682.10" y2="389.17" stroke="#bdbdbd" stroke-width="0.9" stroke-dasharray="2.4,1.45"/>
<line x1="363.60" y1="372.33" x2="682.10" y2="372.33" stroke="#bdbdbd" stroke-width="0.9" stroke-dasharray="2.4,1.45"/>
<rect x="667.1" y="357.20" width="12.80" height="96.50" fill="#e3e3e3" stroke="#d0d0d0" stroke-width="0.6"/>
<rect x="650.5" y="409.50" width="29.40" height="44.20" fill="#e3e3e3" stroke="#d0d0d0" stroke-width="0.6"/>
<rect x="667.4" y="357.50" width="12.20" height="95.90" fill="#e3e3e3"/>
<rect x="669.2" y="367.4" width="3.20" height="31.90" fill="#fa8418" stroke="#5a7068" stroke-width="0.8"/>
<rect x="674.5" y="370.3" width="3.70" height="37.40" fill="#3eaaf8" stroke="#2a6ab0" stroke-width="0.8"/>
<text x="652.30" y="417.10" font-size="10.5" fill="#1a1a1a" stroke="#1a1a1a" stroke-width="0.18">η<tspan font-size="5.6" letter-spacing="0.5" fill="#3a3a3a" stroke="none" dx="0.4">max</tspan></text>
<text x="652.30" y="449.70" font-size="10.5" fill="#1a1a1a" stroke="#1a1a1a" stroke-width="0.18">η<tspan font-size="5.6" letter-spacing="0.5" fill="#3a3a3a" stroke="none" dx="0.4">min</tspan></text>
<line x1="659.40" y1="422.50" x2="659.40" y2="441.00" stroke="#111" stroke-width="1.4"/>
<path d="M659.40,419.50 L661.70,423.80 L657.10,423.80 Z" fill="#111"/>
<path d="M659.40,444.00 L661.70,439.70 L657.10,439.70 Z" fill="#111"/>
<polyline points="376.60,399.00 395.30,394.20 421.10,383.50 448.00,371.00 474.60,368.70 501.20,364.00 527.80,366.20 554.30,367.30" fill="none" stroke="#fa8418" stroke-width="1.2" stroke-linejoin="round"/>
<polyline points="516.90,406.70 543.70,396.80 570.30,388.10 596.90,373.80 623.40,381.70 650.00,370.40" fill="none" stroke="#2457c0" stroke-width="1.2" stroke-linejoin="round"/>
<path d="M376.60,395.90 L379.70,399.00 L376.60,402.10 L373.50,399.00 Z" fill="#fff" stroke="#fa8418" stroke-width="1.3"/><path d="M376.60,395.12 L380.08,399.40 L373.12,399.40 Z" fill="#fa8418"/>
<path d="M395.30,391.10 L398.40,394.20 L395.30,397.30 L392.20,394.20 Z" fill="#fff" stroke="#fa8418" stroke-width="1.3"/><path d="M395.30,390.32 L398.78,394.60 L391.82,394.60 Z" fill="#fa8418"/>
<path d="M421.10,380.40 L424.20,383.50 L421.10,386.60 L418.00,383.50 Z" fill="#fff" stroke="#fa8418" stroke-width="1.3"/><path d="M421.10,379.62 L424.58,383.90 L417.62,383.90 Z" fill="#fa8418"/>
<path d="M448.00,367.90 L451.10,371.00 L448.00,374.10 L444.90,371.00 Z" fill="#fff" stroke="#fa8418" stroke-width="1.3"/><path d="M448.00,367.12 L451.48,371.40 L444.52,371.40 Z" fill="#fa8418"/>
<path d="M474.60,365.60 L477.70,368.70 L474.60,371.80 L471.50,368.70 Z" fill="#fff" stroke="#fa8418" stroke-width="1.3"/><path d="M474.60,364.82 L478.08,369.10 L471.12,369.10 Z" fill="#fa8418"/>
<path d="M501.20,360.90 L504.30,364.00 L501.20,367.10 L498.10,364.00 Z" fill="#fff" stroke="#fa8418" stroke-width="1.3"/><path d="M501.20,360.12 L504.68,364.40 L497.72,364.40 Z" fill="#fa8418"/>
<path d="M527.80,363.10 L530.90,366.20 L527.80,369.30 L524.70,366.20 Z" fill="#fff" stroke="#fa8418" stroke-width="1.3"/><path d="M527.80,362.32 L531.28,366.60 L524.32,366.60 Z" fill="#fa8418"/>
<path d="M554.30,364.20 L557.40,367.30 L554.30,370.40 L551.20,367.30 Z" fill="#fff" stroke="#fa8418" stroke-width="1.3"/><path d="M554.30,363.42 L557.78,367.70 L550.82,367.70 Z" fill="#fa8418"/>
<path d="M516.90,403.40 L520.20,409.70 L513.60,409.70 Z" fill="#3eaaf8" stroke="#1a5cb8" stroke-width="1" stroke-linejoin="miter"/>
<path d="M543.70,393.50 L547.00,399.80 L540.40,399.80 Z" fill="#3eaaf8" stroke="#1a5cb8" stroke-width="1" stroke-linejoin="miter"/>
<path d="M570.30,384.80 L573.60,391.10 L567.00,391.10 Z" fill="#3eaaf8" stroke="#1a5cb8" stroke-width="1" stroke-linejoin="miter"/>
<path d="M596.90,370.50 L600.20,376.80 L593.60,376.80 Z" fill="#3eaaf8" stroke="#1a5cb8" stroke-width="1" stroke-linejoin="miter"/>
<path d="M623.40,378.40 L626.70,384.70 L620.10,384.70 Z" fill="#3eaaf8" stroke="#1a5cb8" stroke-width="1" stroke-linejoin="miter"/>
<path d="M650.00,367.10 L653.30,373.40 L646.70,373.40 Z" fill="#3eaaf8" stroke="#1a5cb8" stroke-width="1" stroke-linejoin="miter"/>
<rect x="365.0" y="429.0" width="89.4" height="25.4" fill="#e3e3e3" stroke="#333" stroke-width="1.1"/>
<line x1="367.90" y1="435.60" x2="399.90" y2="435.60" stroke="#fa8418" stroke-width="1.3"/>
<line x1="367.90" y1="447.40" x2="399.90" y2="447.40" stroke="#2457c0" stroke-width="1.3"/>
<path d="M383.90,431.90 L387.60,435.60 L383.90,439.30 L380.20,435.60 Z" fill="#fff" stroke="#fa8418" stroke-width="1.3"/><path d="M383.90,431.12 L387.98,436.00 L379.82,436.00 Z" fill="#fa8418"/>
<path d="M383.90,443.10 L387.80,450.20 L380.00,450.20 Z" fill="#3eaaf8" stroke="#1a5cb8" stroke-width="1" stroke-linejoin="miter"/>
<text x="400.50" y="439.10" font-size="11" fill="#222" stroke="#222" stroke-width="0.18">MD-30 mm</text>
<text x="400.50" y="450.90" font-size="11" fill="#222" stroke="#222" stroke-width="0.18">CD-30 mm</text>
<text x="367.00" y="365.70" font-size="11.2" fill="#f52020" stroke="#f52020" stroke-width="0.18">(d')</text>
<line x1="363.00" y1="456.50" x2="682.70" y2="456.50" stroke="#262626" stroke-width="1.3"/>
<line x1="363.60" y1="355.50" x2="363.60" y2="456.50" stroke="#2a2a2a" stroke-width="1.3"/>
<line x1="363.00" y1="355.50" x2="682.70" y2="355.50" stroke="#2a2a2a" stroke-width="1.3"/>
<line x1="682.10" y1="355.50" x2="682.10" y2="456.50" stroke="#858585" stroke-width="1.6"/>
<line x1="363.60" y1="456.50" x2="363.60" y2="459.80" stroke="#262626" stroke-width="1"/>
<line x1="390.14" y1="456.50" x2="390.14" y2="458.70" stroke="#262626" stroke-width="1"/>
<line x1="416.68" y1="456.50" x2="416.68" y2="459.80" stroke="#262626" stroke-width="1"/>
<line x1="443.23" y1="456.50" x2="443.23" y2="458.70" stroke="#262626" stroke-width="1"/>
<line x1="469.77" y1="456.50" x2="469.77" y2="459.80" stroke="#262626" stroke-width="1"/>
<line x1="496.31" y1="456.50" x2="496.31" y2="458.70" stroke="#262626" stroke-width="1"/>
<line x1="522.85" y1="456.50" x2="522.85" y2="459.80" stroke="#262626" stroke-width="1"/>
<line x1="549.39" y1="456.50" x2="549.39" y2="458.70" stroke="#262626" stroke-width="1"/>
<line x1="575.93" y1="456.50" x2="575.93" y2="459.80" stroke="#262626" stroke-width="1"/>
<line x1="602.47" y1="456.50" x2="602.47" y2="458.70" stroke="#262626" stroke-width="1"/>
<line x1="629.02" y1="456.50" x2="629.02" y2="459.80" stroke="#262626" stroke-width="1"/>
<line x1="655.56" y1="456.50" x2="655.56" y2="458.70" stroke="#262626" stroke-width="1"/>
<line x1="682.10" y1="456.50" x2="682.10" y2="459.80" stroke="#262626" stroke-width="1"/>
<text x="416.68" y="468.60" font-size="11" fill="#1e1e1e" text-anchor="middle" textLength="18.3" lengthAdjust="spacingAndGlyphs" stroke="#1e1e1e" stroke-width="0.18">0.56</text>
<text x="469.77" y="468.60" font-size="11" fill="#1e1e1e" text-anchor="middle" textLength="18.3" lengthAdjust="spacingAndGlyphs" stroke="#1e1e1e" stroke-width="0.18">0.58</text>
<text x="522.85" y="468.60" font-size="11" fill="#1e1e1e" text-anchor="middle" textLength="18.3" lengthAdjust="spacingAndGlyphs" stroke="#1e1e1e" stroke-width="0.18">0.60</text>
<text x="575.93" y="468.60" font-size="11" fill="#1e1e1e" text-anchor="middle" textLength="18.3" lengthAdjust="spacingAndGlyphs" stroke="#1e1e1e" stroke-width="0.18">0.62</text>
<text x="629.02" y="468.60" font-size="11" fill="#1e1e1e" text-anchor="middle" textLength="18.3" lengthAdjust="spacingAndGlyphs" stroke="#1e1e1e" stroke-width="0.18">0.64</text>
<line x1="360.30" y1="456.50" x2="363.60" y2="456.50" stroke="#262626" stroke-width="1"/>
<line x1="361.50" y1="448.08" x2="363.60" y2="448.08" stroke="#262626" stroke-width="1"/>
<line x1="360.30" y1="439.67" x2="363.60" y2="439.67" stroke="#262626" stroke-width="1"/>
<line x1="361.50" y1="431.25" x2="363.60" y2="431.25" stroke="#262626" stroke-width="1"/>
<line x1="360.30" y1="422.83" x2="363.60" y2="422.83" stroke="#262626" stroke-width="1"/>
<line x1="361.50" y1="414.42" x2="363.60" y2="414.42" stroke="#262626" stroke-width="1"/>
<line x1="360.30" y1="406.00" x2="363.60" y2="406.00" stroke="#262626" stroke-width="1"/>
<line x1="361.50" y1="397.58" x2="363.60" y2="397.58" stroke="#262626" stroke-width="1"/>
<line x1="360.30" y1="389.17" x2="363.60" y2="389.17" stroke="#262626" stroke-width="1"/>
<line x1="361.50" y1="380.75" x2="363.60" y2="380.75" stroke="#262626" stroke-width="1"/>
<line x1="360.30" y1="372.33" x2="363.60" y2="372.33" stroke="#262626" stroke-width="1"/>
<line x1="361.50" y1="363.92" x2="363.60" y2="363.92" stroke="#262626" stroke-width="1"/>
<line x1="360.30" y1="355.50" x2="363.60" y2="355.50" stroke="#262626" stroke-width="1"/>
<line x1="0" y1="235.5" x2="685" y2="235.5" stroke="#5563f6" stroke-width="1.3" stroke-dasharray="8.2,2.3"/>
<text transform="translate(10.9,110.2) rotate(-90)" font-size="11.7" fill="#222" text-anchor="middle" textLength="83" lengthAdjust="spacingAndGlyphs" stroke="#222" stroke-width="0.18">Yield stress <tspan font-style="italic">τ</tspan> (pa)</text>
<text transform="translate(10.9,393.8) rotate(-90)" font-size="11.9" fill="#222" textLength="53" lengthAdjust="spacing" stroke="#222" stroke-width="0.18">Viscosity</text>
<text transform="translate(10.9,337.6) rotate(-90)" font-size="11.7" fill="#222" font-style="italic" stroke="#222" stroke-width="0.18">η</text>
<text transform="translate(10.9,329.0) rotate(-90)" font-size="11.7" fill="#222" textLength="27" lengthAdjust="spacingAndGlyphs" stroke="#222" stroke-width="0.18">(pa·s)</text>
<text x="360" y="479.5" font-size="11.7" fill="#222" text-anchor="middle" stroke="#222" stroke-width="0.18">Solid volume concentration <tspan font-style="italic">C</tspan><tspan font-size="7" dy="2">v</tspan><tspan dy="-2"> (-)</tspan></text>
</svg>
</body></html>
